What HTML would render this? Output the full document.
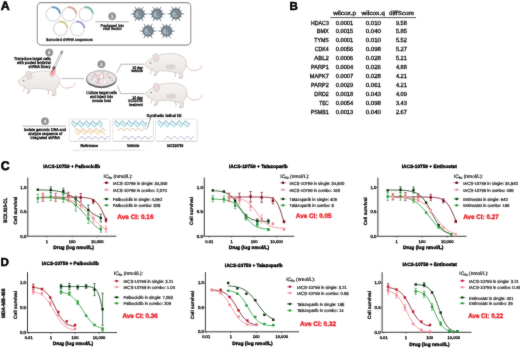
<!DOCTYPE html>
<html><head><meta charset="utf-8"><style>
html,body{margin:0;padding:0;background:#fff;}
svg{display:block;font-family:"Liberation Sans",sans-serif;}
#w{width:520px;height:348px;}
text{text-rendering:geometricPrecision;}
</style></head><body><div id="w">
<svg width="520" height="348" viewBox="0 0 520 348">
<defs><filter id="bl" x="0" y="0" width="520" height="348" filterUnits="userSpaceOnUse"><feConvolveMatrix order="3" kernelMatrix="1 2 1 2 28 2 1 2 1" edgeMode="duplicate"/></filter></defs>
<rect width="520" height="348" fill="#fff"/>
<g filter="url(#bl)">
<text x="0.8" y="10.1" font-size="12.4" font-weight="bold" stroke="#000" stroke-width="0.5">A</text>
<text x="289.6" y="9.8" font-size="11.6" font-weight="bold" stroke="#000" stroke-width="0.5">B</text>
<text x="0.7" y="169.6" font-size="12.4" font-weight="bold" stroke="#000" stroke-width="0.5">C</text>
<text x="0.6" y="266.1" font-size="11.6" font-weight="bold" stroke="#000" stroke-width="0.5">D</text>
<defs><linearGradient id="mg" x1="0" y1="0" x2="0" y2="1"><stop offset="0" stop-color="#f6f4f2"/><stop offset="1" stop-color="#e6e2de"/></linearGradient></defs>
<rect x="37.3" y="2.6" width="153.5" height="42.5" rx="4" fill="#fff" stroke="#939393" stroke-width="1.1"/>
<circle cx="53.1" cy="14.2" r="7" fill="none" stroke="#d9d9d9" stroke-width="1.2"/>
<path d="M51.88,7.31 A7,7 0 0 1 60.07,13.59" fill="none" stroke="#4a8ab4" stroke-width="2.1" opacity="0.85"/>
<circle cx="69.2" cy="14.2" r="7" fill="none" stroke="#d9d9d9" stroke-width="1.2"/>
<path d="M67.98,7.31 A7,7 0 0 1 76.17,13.59" fill="none" stroke="#d29a84" stroke-width="2.1" opacity="0.85"/>
<circle cx="85.9" cy="14.1" r="7" fill="none" stroke="#d9d9d9" stroke-width="1.2"/>
<path d="M84.68,7.21 A7,7 0 0 1 92.87,13.49" fill="none" stroke="#5fb89a" stroke-width="2.1" opacity="0.85"/>
<circle cx="60.5" cy="28.6" r="7" fill="none" stroke="#d9d9d9" stroke-width="1.2"/>
<path d="M59.28,21.71 A7,7 0 0 1 67.47,27.99" fill="none" stroke="#d8c878" stroke-width="2.1" opacity="0.85"/>
<circle cx="77.4" cy="28.6" r="7" fill="none" stroke="#d9d9d9" stroke-width="1.2"/>
<path d="M76.18,21.71 A7,7 0 0 1 84.37,27.99" fill="none" stroke="#a890c8" stroke-width="2.1" opacity="0.85"/>
<text transform="translate(69.4 40.8) scale(1 1.1)" x="0" y="0" font-size="3.75" font-weight="normal" text-anchor="middle" fill="#111" stroke="#111" stroke-width="0.28" textLength="46.8" lengthAdjust="spacingAndGlyphs">Barcoded shRNA sequences</text>
<circle cx="112.2" cy="16.2" r="3.8" fill="#8f8f8f"/>
<circle cx="112.2" cy="16.2" r="3.8" fill="none" stroke="#b5b5b5" stroke-width="0.5"/>
<text x="112.2" y="17.9" font-size="4.8" font-weight="bold" text-anchor="middle" fill="#fff">1</text>
<path d="M95.5,21.8 H128.6" stroke="#777" stroke-width="0.6"/>
<text transform="translate(112.3 26.6) scale(1 1.1)" x="0" y="0" font-size="3.75" font-weight="normal" text-anchor="middle" fill="#111" stroke="#111" stroke-width="0.28" textLength="23.5" lengthAdjust="spacingAndGlyphs">Packaged into</text>
<text transform="translate(112.3 30.1) scale(1 1.1)" x="0" y="0" font-size="3.75" font-weight="normal" text-anchor="middle" fill="#111" stroke="#111" stroke-width="0.28" textLength="19" lengthAdjust="spacingAndGlyphs">viral vector</text>
<path d="M144.00,14.00 L147.30,14.00 M141.50,18.33 L143.15,21.19 M136.50,18.33 L134.85,21.19 M134.00,14.00 L130.70,14.00 M136.50,9.67 L134.85,6.81 M141.50,9.67 L143.15,6.81 M142.98,16.30 L145.06,17.50 M139.00,18.60 L139.00,21.00 M135.02,16.30 L132.94,17.50 M135.02,11.70 L132.94,10.50 M139.00,9.40 L139.00,7.00 M142.98,11.70 L145.06,10.50" stroke="#6a767e" stroke-width="0.85"/>
<polygon points="144.60,14.00 141.80,18.85 136.20,18.85 133.40,14.00 136.20,9.15 141.80,9.15" fill="#7a8891" stroke="#505c64" stroke-width="0.8"/>
<circle cx="138.4" cy="14.4" r="3" fill="#a3b5be"/>
<path d="M138.7,11.4 q1.6,2.6 -0.2,5.2 M140.4,12 l0.6,4" stroke="#56626a" stroke-width="0.7" fill="none"/>
<path d="M162.00,14.00 L165.30,14.00 M159.50,18.33 L161.15,21.19 M154.50,18.33 L152.85,21.19 M152.00,14.00 L148.70,14.00 M154.50,9.67 L152.85,6.81 M159.50,9.67 L161.15,6.81 M160.98,16.30 L163.06,17.50 M157.00,18.60 L157.00,21.00 M153.02,16.30 L150.94,17.50 M153.02,11.70 L150.94,10.50 M157.00,9.40 L157.00,7.00 M160.98,11.70 L163.06,10.50" stroke="#6a767e" stroke-width="0.85"/>
<polygon points="162.60,14.00 159.80,18.85 154.20,18.85 151.40,14.00 154.20,9.15 159.80,9.15" fill="#7a8891" stroke="#505c64" stroke-width="0.8"/>
<circle cx="156.4" cy="14.4" r="3" fill="#a3b5be"/>
<path d="M156.7,11.4 q1.6,2.6 -0.2,5.2 M158.4,12 l0.6,4" stroke="#56626a" stroke-width="0.7" fill="none"/>
<path d="M180.90,13.80 L184.20,13.80 M178.40,18.13 L180.05,20.99 M173.40,18.13 L171.75,20.99 M170.90,13.80 L167.60,13.80 M173.40,9.47 L171.75,6.61 M178.40,9.47 L180.05,6.61 M179.88,16.10 L181.96,17.30 M175.90,18.40 L175.90,20.80 M171.92,16.10 L169.84,17.30 M171.92,11.50 L169.84,10.30 M175.90,9.20 L175.90,6.80 M179.88,11.50 L181.96,10.30" stroke="#6a767e" stroke-width="0.85"/>
<polygon points="181.50,13.80 178.70,18.65 173.10,18.65 170.30,13.80 173.10,8.95 178.70,8.95" fill="#7a8891" stroke="#505c64" stroke-width="0.8"/>
<circle cx="175.3" cy="14.200000000000001" r="3" fill="#a3b5be"/>
<path d="M175.6,11.200000000000001 q1.6,2.6 -0.2,5.2 M177.3,11.8 l0.6,4" stroke="#56626a" stroke-width="0.7" fill="none"/>
<path d="M153.10,31.00 L156.40,31.00 M150.60,35.33 L152.25,38.19 M145.60,35.33 L143.95,38.19 M143.10,31.00 L139.80,31.00 M145.60,26.67 L143.95,23.81 M150.60,26.67 L152.25,23.81 M152.08,33.30 L154.16,34.50 M148.10,35.60 L148.10,38.00 M144.12,33.30 L142.04,34.50 M144.12,28.70 L142.04,27.50 M148.10,26.40 L148.10,24.00 M152.08,28.70 L154.16,27.50" stroke="#6a767e" stroke-width="0.85"/>
<polygon points="153.70,31.00 150.90,35.85 145.30,35.85 142.50,31.00 145.30,26.15 150.90,26.15" fill="#7a8891" stroke="#505c64" stroke-width="0.8"/>
<circle cx="147.5" cy="31.4" r="3" fill="#a3b5be"/>
<path d="M147.79999999999998,28.4 q1.6,2.6 -0.2,5.2 M149.5,29 l0.6,4" stroke="#56626a" stroke-width="0.7" fill="none"/>
<path d="M171.60,31.00 L174.90,31.00 M169.10,35.33 L170.75,38.19 M164.10,35.33 L162.45,38.19 M161.60,31.00 L158.30,31.00 M164.10,26.67 L162.45,23.81 M169.10,26.67 L170.75,23.81 M170.58,33.30 L172.66,34.50 M166.60,35.60 L166.60,38.00 M162.62,33.30 L160.54,34.50 M162.62,28.70 L160.54,27.50 M166.60,26.40 L166.60,24.00 M170.58,28.70 L172.66,27.50" stroke="#6a767e" stroke-width="0.85"/>
<polygon points="172.20,31.00 169.40,35.85 163.80,35.85 161.00,31.00 163.80,26.15 169.40,26.15" fill="#7a8891" stroke="#505c64" stroke-width="0.8"/>
<circle cx="166.0" cy="31.4" r="3" fill="#a3b5be"/>
<path d="M166.29999999999998,28.4 q1.6,2.6 -0.2,5.2 M168.0,29 l0.6,4" stroke="#56626a" stroke-width="0.7" fill="none"/>
<g transform="translate(18.1,81.8)"><path d="M40.5,0 C43,4.5 45.5,6.4 48.5,6.3 C52,6.2 55,5.2 56.2,3.4 C56.9,2.3 56.7,1.5 56.2,0.8" fill="none" stroke="#e2bfc3" stroke-width="1"/><path d="M29.5,6.5 L30.8,11.8 L29.2,12.4" fill="none" stroke="#d8c4c6" stroke-width="1"/><path d="M6.5,5 L5.6,9.2 L4.2,9.6" fill="none" stroke="#dcc4c6" stroke-width="0.9"/><path d="M0,0 C1.5,-2.5 4,-4.8 7,-6 C11,-8.6 16,-10.2 22,-10.6 C28,-11 34,-10.5 38,-7.5 C40.5,-5.5 41.5,-3 41.3,-0.5 C41,3 39.5,5.5 37.5,7.5 L37.8,12.8 L35.6,13.9 L33.4,13.6 L34.6,12.5 L34.4,9 C29,7.8 23,6.5 17.5,6.5 C15,6.5 13.5,7 12.5,7.8 L11.6,10.6 L9.2,11.3 L8.8,10.5 L10,9.6 L9.6,6.8 C7,5.6 4,4.3 2,3 C0.8,2.1 0,1 0,0 Z" fill="url(#mg)" stroke="#bdb6b2" stroke-width="0.55"/><ellipse cx="10.8" cy="-6.6" rx="2.9" ry="4.2" transform="rotate(-15 10.8 -6.6)" fill="#efe5e4" stroke="#c2b4b5" stroke-width="0.55"/><ellipse cx="11" cy="-6.2" rx="1.5" ry="2.6" transform="rotate(-15 11 -6.2)" fill="#ead6d8"/><circle cx="5.5" cy="-1.4" r="0.75" fill="#666"/><path d="M37.2,13.4 l-2.2,0.6 M11,11.2 l-2,0.4" stroke="#dcb4b8" stroke-width="1"/></g>
<g transform="translate(145,64.3)"><path d="M40.5,0 C43,4.5 45.5,6.4 48.5,6.3 C52,6.2 55,5.2 56.2,3.4 C56.9,2.3 56.7,1.5 56.2,0.8" fill="none" stroke="#e2bfc3" stroke-width="1"/><path d="M29.5,6.5 L30.8,11.8 L29.2,12.4" fill="none" stroke="#d8c4c6" stroke-width="1"/><path d="M6.5,5 L5.6,9.2 L4.2,9.6" fill="none" stroke="#dcc4c6" stroke-width="0.9"/><path d="M0,0 C1.5,-2.5 4,-4.8 7,-6 C11,-8.6 16,-10.2 22,-10.6 C28,-11 34,-10.5 38,-7.5 C40.5,-5.5 41.5,-3 41.3,-0.5 C41,3 39.5,5.5 37.5,7.5 L37.8,12.8 L35.6,13.9 L33.4,13.6 L34.6,12.5 L34.4,9 C29,7.8 23,6.5 17.5,6.5 C15,6.5 13.5,7 12.5,7.8 L11.6,10.6 L9.2,11.3 L8.8,10.5 L10,9.6 L9.6,6.8 C7,5.6 4,4.3 2,3 C0.8,2.1 0,1 0,0 Z" fill="url(#mg)" stroke="#bdb6b2" stroke-width="0.55"/><ellipse cx="10.8" cy="-6.6" rx="2.9" ry="4.2" transform="rotate(-15 10.8 -6.6)" fill="#efe5e4" stroke="#c2b4b5" stroke-width="0.55"/><ellipse cx="11" cy="-6.2" rx="1.5" ry="2.6" transform="rotate(-15 11 -6.2)" fill="#ead6d8"/><circle cx="5.5" cy="-1.4" r="0.75" fill="#666"/><path d="M37.2,13.4 l-2.2,0.6 M11,11.2 l-2,0.4" stroke="#dcb4b8" stroke-width="1"/><ellipse cx="25.5" cy="2.5" rx="5" ry="2.6" fill="#e0d8da"/><path d="M22,1 v3.3 M24.5,0.4 v4 M27,0.4 v4 M29.4,1 v3.3" stroke="#c9bdc2" stroke-width="0.4"/></g>
<g transform="translate(145.6,93.8)"><path d="M40.5,0 C43,4.5 45.5,6.4 48.5,6.3 C52,6.2 55,5.2 56.2,3.4 C56.9,2.3 56.7,1.5 56.2,0.8" fill="none" stroke="#e2bfc3" stroke-width="1"/><path d="M29.5,6.5 L30.8,11.8 L29.2,12.4" fill="none" stroke="#d8c4c6" stroke-width="1"/><path d="M6.5,5 L5.6,9.2 L4.2,9.6" fill="none" stroke="#dcc4c6" stroke-width="0.9"/><path d="M0,0 C1.5,-2.5 4,-4.8 7,-6 C11,-8.6 16,-10.2 22,-10.6 C28,-11 34,-10.5 38,-7.5 C40.5,-5.5 41.5,-3 41.3,-0.5 C41,3 39.5,5.5 37.5,7.5 L37.8,12.8 L35.6,13.9 L33.4,13.6 L34.6,12.5 L34.4,9 C29,7.8 23,6.5 17.5,6.5 C15,6.5 13.5,7 12.5,7.8 L11.6,10.6 L9.2,11.3 L8.8,10.5 L10,9.6 L9.6,6.8 C7,5.6 4,4.3 2,3 C0.8,2.1 0,1 0,0 Z" fill="url(#mg)" stroke="#bdb6b2" stroke-width="0.55"/><ellipse cx="10.8" cy="-6.6" rx="2.9" ry="4.2" transform="rotate(-15 10.8 -6.6)" fill="#efe5e4" stroke="#c2b4b5" stroke-width="0.55"/><ellipse cx="11" cy="-6.2" rx="1.5" ry="2.6" transform="rotate(-15 11 -6.2)" fill="#ead6d8"/><circle cx="5.5" cy="-1.4" r="0.75" fill="#666"/><path d="M37.2,13.4 l-2.2,0.6 M11,11.2 l-2,0.4" stroke="#dcb4b8" stroke-width="1"/><ellipse cx="25.5" cy="2.5" rx="5" ry="2.6" fill="#e0d8da"/><path d="M22,1 v3.3 M24.5,0.4 v4 M27,0.4 v4 M29.4,1 v3.3" stroke="#c9bdc2" stroke-width="0.4"/></g>
<ellipse cx="52.8" cy="72.5" rx="2.6" ry="4.2" transform="rotate(25 52.8 72.5)" fill="#f0a8aa" opacity="0.9"/>
<path d="M62.2,51.5 L53.8,68.2" stroke="#a9a9a9" stroke-width="2.4"/>
<path d="M62.0,52.0 L54.0,67.8" stroke="#e9e9e9" stroke-width="1.3"/>
<path d="M62.6,50.6 L60.8,54" stroke="#8a8a8a" stroke-width="1.6"/>
<path d="M54.6,66.6 L53.2,69.4" stroke="#6a4a4c" stroke-width="2.6"/>
<path d="M53.3,69.4 L51.8,72.6" stroke="#c07a80" stroke-width="1.4"/>
<circle cx="49.2" cy="52.5" r="3.8" fill="#8f8f8f"/>
<circle cx="49.2" cy="52.5" r="3.8" fill="none" stroke="#b5b5b5" stroke-width="0.5"/>
<text x="49.2" y="54.2" font-size="4.8" font-weight="bold" text-anchor="middle" fill="#fff">2</text>
<text transform="translate(50.6 60) scale(1 1.1)" x="0" y="0" font-size="3.75" font-weight="normal" text-anchor="end" fill="#111" stroke="#111" stroke-width="0.28" textLength="36.6" lengthAdjust="spacingAndGlyphs">Transduce target cells</text>
<text transform="translate(50.6 63.9) scale(1 1.1)" x="0" y="0" font-size="3.75" font-weight="normal" text-anchor="end" fill="#111" stroke="#111" stroke-width="0.28" textLength="33.5" lengthAdjust="spacingAndGlyphs">with pooled lentiviral</text>
<text transform="translate(50.6 67.8) scale(1 1.1)" x="0" y="0" font-size="3.75" font-weight="normal" text-anchor="end" fill="#111" stroke="#111" stroke-width="0.28" textLength="22" lengthAdjust="spacingAndGlyphs">shRNA library</text>
<path d="M61.5,78.6 H84" stroke="#888" stroke-width="0.6"/>
<circle cx="101.4" cy="64.2" r="3.8" fill="#8f8f8f"/>
<circle cx="101.4" cy="64.2" r="3.8" fill="none" stroke="#b5b5b5" stroke-width="0.5"/>
<text x="101.4" y="65.9" font-size="4.8" font-weight="bold" text-anchor="middle" fill="#fff">3</text>
<ellipse cx="101.4" cy="79.2" rx="15.3" ry="9" fill="#5e5e5e"/>
<ellipse cx="101.4" cy="78.2" rx="15" ry="8.2" fill="#c9c9c9"/>
<ellipse cx="101.6" cy="78.4" rx="13.6" ry="7" fill="#ece6e7"/>
<circle cx="94.50" cy="75.03" r="1.0" fill="#e0a8b0"/><circle cx="96.77" cy="75.07" r="0.6" fill="#bdb3b8"/><circle cx="95.13" cy="74.12" r="0.8" fill="#e9b5b8"/><circle cx="96.00" cy="78.94" r="0.6" fill="#fafafa"/><circle cx="100.42" cy="78.11" r="0.8" fill="#d6c8cc"/><circle cx="99.57" cy="83.67" r="0.6" fill="#bdb3b8"/><circle cx="101.83" cy="76.90" r="1.0" fill="#fafafa"/><circle cx="97.67" cy="79.09" r="0.6" fill="#e9b5b8"/><circle cx="103.26" cy="72.97" r="0.6" fill="#d6c8cc"/><circle cx="98.84" cy="83.72" r="1.0" fill="#fafafa"/><circle cx="98.15" cy="76.70" r="0.6" fill="#e0a8b0"/><circle cx="112.23" cy="77.30" r="0.6" fill="#f6d6cf"/><circle cx="98.59" cy="80.15" r="0.8" fill="#d6c8cc"/><circle cx="107.39" cy="79.62" r="1.0" fill="#fafafa"/><circle cx="111.07" cy="78.50" r="0.6" fill="#f6d6cf"/><circle cx="97.77" cy="83.11" r="1.0" fill="#bdb3b8"/><circle cx="98.40" cy="81.96" r="0.6" fill="#e0a8b0"/><circle cx="112.24" cy="80.34" r="1.0" fill="#e9b5b8"/><circle cx="97.02" cy="81.18" r="0.8" fill="#fafafa"/><circle cx="95.77" cy="81.57" r="0.8" fill="#e9b5b8"/><circle cx="106.28" cy="79.09" r="0.6" fill="#d6c8cc"/><circle cx="102.00" cy="73.00" r="0.8" fill="#bdb3b8"/><circle cx="90.77" cy="77.98" r="0.8" fill="#f6d6cf"/><circle cx="109.34" cy="81.44" r="0.8" fill="#f6d6cf"/><circle cx="112.49" cy="79.64" r="0.6" fill="#e9b5b8"/><circle cx="96.75" cy="82.08" r="0.8" fill="#d6c8cc"/><circle cx="100.05" cy="83.03" r="0.8" fill="#e9b5b8"/><circle cx="99.11" cy="75.55" r="1.0" fill="#e9b5b8"/><circle cx="107.27" cy="82.14" r="0.6" fill="#bdb3b8"/><circle cx="100.99" cy="76.83" r="1.0" fill="#fafafa"/><circle cx="103.42" cy="77.94" r="1.0" fill="#e0a8b0"/><circle cx="98.40" cy="80.73" r="0.8" fill="#e0a8b0"/><circle cx="108.54" cy="82.79" r="0.6" fill="#e0a8b0"/><circle cx="103.72" cy="75.33" r="0.6" fill="#d6c8cc"/><circle cx="110.18" cy="77.91" r="1.0" fill="#d6c8cc"/><circle cx="107.49" cy="76.22" r="0.8" fill="#d6c8cc"/><circle cx="99.65" cy="79.37" r="0.8" fill="#bdb3b8"/><circle cx="108.57" cy="82.57" r="0.6" fill="#fafafa"/><circle cx="109.26" cy="77.83" r="1.0" fill="#bdb3b8"/><circle cx="100.58" cy="74.56" r="0.8" fill="#f6d6cf"/><circle cx="97.98" cy="79.62" r="1.0" fill="#bdb3b8"/><circle cx="110.42" cy="77.29" r="0.8" fill="#bdb3b8"/><circle cx="105.03" cy="81.95" r="1.0" fill="#fafafa"/><circle cx="106.25" cy="75.91" r="1.0" fill="#f6d6cf"/><circle cx="99.78" cy="77.86" r="0.8" fill="#f6d6cf"/><circle cx="92.84" cy="76.73" r="0.8" fill="#bdb3b8"/><circle cx="102.78" cy="73.78" r="0.8" fill="#f6d6cf"/><circle cx="96.44" cy="74.95" r="0.8" fill="#e9b5b8"/><circle cx="96.09" cy="77.58" r="0.8" fill="#e0a8b0"/><circle cx="91.49" cy="79.57" r="1.0" fill="#e0a8b0"/><circle cx="103.60" cy="75.24" r="0.8" fill="#e0a8b0"/><circle cx="100.80" cy="73.32" r="0.6" fill="#f6d6cf"/><circle cx="108.13" cy="75.01" r="0.8" fill="#f6d6cf"/><circle cx="93.29" cy="77.94" r="0.6" fill="#d6c8cc"/><circle cx="107.37" cy="73.76" r="0.8" fill="#bdb3b8"/>
<text transform="translate(101.5 94.2) scale(1 1.1)" x="0" y="0" font-size="3.75" font-weight="normal" text-anchor="middle" fill="#111" stroke="#111" stroke-width="0.28" textLength="30.7" lengthAdjust="spacingAndGlyphs">Culture target cells</text>
<text transform="translate(101.5 98.1) scale(1 1.1)" x="0" y="0" font-size="3.75" font-weight="normal" text-anchor="middle" fill="#111" stroke="#111" stroke-width="0.28" textLength="22.9" lengthAdjust="spacingAndGlyphs">and inject into</text>
<text transform="translate(101.5 101.6) scale(1 1.1)" x="0" y="0" font-size="3.75" font-weight="normal" text-anchor="middle" fill="#111" stroke="#111" stroke-width="0.28" textLength="18.6" lengthAdjust="spacingAndGlyphs">mouse host</text>
<path d="M116.9,72.6 L121.2,64.2 H144.2 M117.3,85.4 L120.8,93.6 H144.6" fill="none" stroke="#888" stroke-width="0.6"/>
<text transform="translate(142.7 68.5) scale(1 1.1)" x="0" y="0" font-size="3.6" font-weight="normal" text-anchor="end" fill="#111" stroke="#111" stroke-width="0.28" textLength="10.4" lengthAdjust="spacingAndGlyphs">10 day</text>
<text transform="translate(142.7 72.4) scale(1 1.1)" x="0" y="0" font-size="3.6" font-weight="normal" text-anchor="end" fill="#111" stroke="#111" stroke-width="0.28" textLength="11.5" lengthAdjust="spacingAndGlyphs">vehicle</text>
<text transform="translate(142.7 98.6) scale(1 1.1)" x="0" y="0" font-size="3.6" font-weight="normal" text-anchor="end" fill="#111" stroke="#111" stroke-width="0.28" textLength="10.4" lengthAdjust="spacingAndGlyphs">10 day</text>
<text transform="translate(142.6 102.3) scale(1 1.1)" x="0" y="0" font-size="3.6" font-weight="normal" text-anchor="end" fill="#111" stroke="#111" stroke-width="0.28" textLength="14.3" lengthAdjust="spacingAndGlyphs">IACS10759</text>
<text transform="translate(142.6 106) scale(1 1.1)" x="0" y="0" font-size="3.6" font-weight="normal" text-anchor="end" fill="#111" stroke="#111" stroke-width="0.28" textLength="13.6" lengthAdjust="spacingAndGlyphs">treatment</text>
<circle cx="45" cy="121.2" r="3.8" fill="#8f8f8f"/>
<circle cx="45" cy="121.2" r="3.8" fill="none" stroke="#b5b5b5" stroke-width="0.5"/>
<text x="45" y="122.9" font-size="4.8" font-weight="bold" text-anchor="middle" fill="#fff">4</text>
<path d="M22.5,126.1 H65.7" stroke="#777" stroke-width="0.6"/>
<text transform="translate(44.9 131.3) scale(1 1.1)" x="0" y="0" font-size="3.75" font-weight="normal" text-anchor="middle" fill="#111" stroke="#111" stroke-width="0.28" textLength="41.7" lengthAdjust="spacingAndGlyphs">Isolate genomic DNA and</text>
<text transform="translate(45.2 135) scale(1 1.1)" x="0" y="0" font-size="3.75" font-weight="normal" text-anchor="middle" fill="#111" stroke="#111" stroke-width="0.28" textLength="34" lengthAdjust="spacingAndGlyphs">analyze sequence of</text>
<text transform="translate(45.3 138.5) scale(1 1.1)" x="0" y="0" font-size="3.75" font-weight="normal" text-anchor="middle" fill="#111" stroke="#111" stroke-width="0.28" textLength="29.4" lengthAdjust="spacingAndGlyphs">integrated shRNA</text>
<rect x="69.6" y="120.10000000000001" width="40.7" height="22" rx="1.5" fill="#d9d9d9"/>
<rect x="69.3" y="119.2" width="40.7" height="22" rx="1.5" fill="#fff" stroke="#d6d6d6" stroke-width="0.6"/>
<polygon points="71.50,122.50 71.75,122.14 72.00,121.81 72.25,121.51 72.51,121.27 72.76,121.10 73.01,121.01 73.26,121.01 73.51,121.09 73.76,121.26 74.02,121.49 74.27,121.79 74.52,122.12 74.77,122.48 75.02,122.84 75.27,123.17 75.53,123.47 75.78,123.72 76.03,123.89 76.28,123.98 76.53,123.99 76.78,123.91 77.04,123.75 77.29,123.52 77.54,123.23 77.79,122.90 78.04,122.54 78.29,122.18 78.55,121.84 78.80,121.54 79.05,121.29 79.30,121.12 79.55,121.02 79.80,121.01 80.05,121.08 80.31,121.23 80.56,121.46 80.81,121.75 81.06,122.08 81.31,122.44 81.56,122.79 81.82,123.14 82.07,123.44 82.32,123.69 82.57,123.88 82.82,123.98 83.07,124.00 83.33,123.93 83.58,123.78 83.83,123.55 84.08,123.27 84.33,122.94 84.58,122.59 84.84,122.23 85.09,121.88 85.34,121.58 85.59,121.32 85.84,121.13 86.09,121.03 86.35,121.00 86.60,121.07 86.85,121.21 87.10,121.43 87.35,121.71 87.60,122.04 87.85,122.39 88.11,122.75 88.36,123.10 88.61,123.41 88.86,123.67 89.11,123.86 89.36,123.97 89.62,124.00 89.87,123.94 90.12,123.80 90.37,123.58 90.62,123.31 90.87,122.98 91.13,122.63 91.38,122.27 91.63,121.92 91.88,121.61 92.13,121.35 92.38,121.15 92.64,121.03 92.89,121.00 93.14,121.05 93.39,121.19 93.64,121.40 93.89,121.68 94.15,122.00 94.40,122.35 94.65,122.71 94.90,123.06 95.15,123.37 95.40,123.64 95.65,123.84 95.91,123.96 96.16,124.00 96.41,123.95 96.66,123.82 96.91,123.61 97.16,123.34 97.42,123.02 97.67,122.67 97.92,122.31 98.17,121.96 98.42,121.64 98.67,121.38 98.93,121.17 99.18,121.04 99.43,121.00 99.68,121.04 99.93,121.17 100.18,121.37 100.44,121.64 100.69,121.96 100.94,122.31 101.19,122.67 101.44,123.02 101.69,123.34 101.95,123.61 102.20,123.82 102.45,123.95 102.70,124.00 102.70,125.62 102.45,125.98 102.20,126.32 101.95,126.61 101.69,126.84 101.44,127.01 101.19,127.09 100.94,127.09 100.69,127.00 100.44,126.83 100.18,126.59 99.93,126.29 99.68,125.95 99.43,125.60 99.18,125.24 98.93,124.90 98.67,124.61 98.42,124.37 98.17,124.20 97.92,124.11 97.67,124.11 97.42,124.19 97.16,124.36 96.91,124.60 96.66,124.89 96.41,125.22 96.16,125.58 95.91,125.94 95.65,126.28 95.40,126.58 95.15,126.82 94.90,126.99 94.65,127.09 94.40,127.09 94.15,127.01 93.89,126.85 93.64,126.62 93.39,126.33 93.14,126.00 92.89,125.64 92.64,125.28 92.38,124.94 92.13,124.64 91.88,124.39 91.63,124.22 91.38,124.12 91.13,124.11 90.87,124.18 90.62,124.34 90.37,124.56 90.12,124.85 89.87,125.18 89.62,125.54 89.36,125.90 89.11,126.24 88.86,126.54 88.61,126.79 88.36,126.98 88.11,127.08 87.85,127.10 87.60,127.03 87.35,126.88 87.10,126.65 86.85,126.37 86.60,126.04 86.35,125.68 86.09,125.32 85.84,124.98 85.59,124.67 85.34,124.42 85.09,124.23 84.84,124.13 84.58,124.10 84.33,124.17 84.08,124.31 83.83,124.53 83.58,124.81 83.33,125.14 83.07,125.50 82.82,125.85 82.57,126.20 82.32,126.51 82.07,126.77 81.82,126.96 81.56,127.07 81.31,127.10 81.06,127.04 80.81,126.90 80.56,126.68 80.31,126.40 80.05,126.08 79.80,125.73 79.55,125.37 79.30,125.02 79.05,124.71 78.80,124.45 78.55,124.25 78.29,124.13 78.04,124.10 77.79,124.15 77.54,124.29 77.29,124.50 77.04,124.78 76.78,125.10 76.53,125.45 76.28,125.81 76.03,126.16 75.78,126.48 75.53,126.74 75.27,126.94 75.02,127.06 74.77,127.10 74.52,127.05 74.27,126.92 74.02,126.71 73.76,126.44 73.51,126.12 73.26,125.77 73.01,125.41 72.76,125.06 72.51,124.74 72.25,124.47 72.00,124.27 71.75,124.14 71.50,124.10" fill="#dff2f4" stroke="none"/><polyline points="71.50,122.50 71.75,122.14 72.00,121.81 72.25,121.51 72.51,121.27 72.76,121.10 73.01,121.01 73.26,121.01 73.51,121.09 73.76,121.26 74.02,121.49 74.27,121.79 74.52,122.12 74.77,122.48 75.02,122.84 75.27,123.17 75.53,123.47 75.78,123.72 76.03,123.89 76.28,123.98 76.53,123.99 76.78,123.91 77.04,123.75 77.29,123.52 77.54,123.23 77.79,122.90 78.04,122.54 78.29,122.18 78.55,121.84 78.80,121.54 79.05,121.29 79.30,121.12 79.55,121.02 79.80,121.01 80.05,121.08 80.31,121.23 80.56,121.46 80.81,121.75 81.06,122.08 81.31,122.44 81.56,122.79 81.82,123.14 82.07,123.44 82.32,123.69 82.57,123.88 82.82,123.98 83.07,124.00 83.33,123.93 83.58,123.78 83.83,123.55 84.08,123.27 84.33,122.94 84.58,122.59 84.84,122.23 85.09,121.88 85.34,121.58 85.59,121.32 85.84,121.13 86.09,121.03 86.35,121.00 86.60,121.07 86.85,121.21 87.10,121.43 87.35,121.71 87.60,122.04 87.85,122.39 88.11,122.75 88.36,123.10 88.61,123.41 88.86,123.67 89.11,123.86 89.36,123.97 89.62,124.00 89.87,123.94 90.12,123.80 90.37,123.58 90.62,123.31 90.87,122.98 91.13,122.63 91.38,122.27 91.63,121.92 91.88,121.61 92.13,121.35 92.38,121.15 92.64,121.03 92.89,121.00 93.14,121.05 93.39,121.19 93.64,121.40 93.89,121.68 94.15,122.00 94.40,122.35 94.65,122.71 94.90,123.06 95.15,123.37 95.40,123.64 95.65,123.84 95.91,123.96 96.16,124.00 96.41,123.95 96.66,123.82 96.91,123.61 97.16,123.34 97.42,123.02 97.67,122.67 97.92,122.31 98.17,121.96 98.42,121.64 98.67,121.38 98.93,121.17 99.18,121.04 99.43,121.00 99.68,121.04 99.93,121.17 100.18,121.37 100.44,121.64 100.69,121.96 100.94,122.31 101.19,122.67 101.44,123.02 101.69,123.34 101.95,123.61 102.20,123.82 102.45,123.95 102.70,124.00" fill="none" stroke="#6a96b8" stroke-width="0.8"/><polyline points="71.50,124.10 71.75,124.14 72.00,124.27 72.25,124.47 72.51,124.74 72.76,125.06 73.01,125.41 73.26,125.77 73.51,126.12 73.76,126.44 74.02,126.71 74.27,126.92 74.52,127.05 74.77,127.10 75.02,127.06 75.27,126.94 75.53,126.74 75.78,126.48 76.03,126.16 76.28,125.81 76.53,125.45 76.78,125.10 77.04,124.78 77.29,124.50 77.54,124.29 77.79,124.15 78.04,124.10 78.29,124.13 78.55,124.25 78.80,124.45 79.05,124.71 79.30,125.02 79.55,125.37 79.80,125.73 80.05,126.08 80.31,126.40 80.56,126.68 80.81,126.90 81.06,127.04 81.31,127.10 81.56,127.07 81.82,126.96 82.07,126.77 82.32,126.51 82.57,126.20 82.82,125.85 83.07,125.50 83.33,125.14 83.58,124.81 83.83,124.53 84.08,124.31 84.33,124.17 84.58,124.10 84.84,124.13 85.09,124.23 85.34,124.42 85.59,124.67 85.84,124.98 86.09,125.32 86.35,125.68 86.60,126.04 86.85,126.37 87.10,126.65 87.35,126.88 87.60,127.03 87.85,127.10 88.11,127.08 88.36,126.98 88.61,126.79 88.86,126.54 89.11,126.24 89.36,125.90 89.62,125.54 89.87,125.18 90.12,124.85 90.37,124.56 90.62,124.34 90.87,124.18 91.13,124.11 91.38,124.12 91.63,124.22 91.88,124.39 92.13,124.64 92.38,124.94 92.64,125.28 92.89,125.64 93.14,126.00 93.39,126.33 93.64,126.62 93.89,126.85 94.15,127.01 94.40,127.09 94.65,127.09 94.90,126.99 95.15,126.82 95.40,126.58 95.65,126.28 95.91,125.94 96.16,125.58 96.41,125.22 96.66,124.89 96.91,124.60 97.16,124.36 97.42,124.19 97.67,124.11 97.92,124.11 98.17,124.20 98.42,124.37 98.67,124.61 98.93,124.90 99.18,125.24 99.43,125.60 99.68,125.95 99.93,126.29 100.18,126.59 100.44,126.83 100.69,127.00 100.94,127.09 101.19,127.09 101.44,127.01 101.69,126.84 101.95,126.61 102.20,126.32 102.45,125.98 102.70,125.62" fill="none" stroke="#72c6cc" stroke-width="0.8"/>
<polygon points="75.00,130.00 75.25,129.64 75.50,129.31 75.75,129.01 76.00,128.77 76.25,128.60 76.50,128.51 76.75,128.51 77.00,128.59 77.25,128.75 77.50,128.98 77.75,129.27 78.00,129.60 78.26,129.96 78.51,130.31 78.76,130.65 79.01,130.95 79.26,131.20 79.51,131.38 79.76,131.48 80.01,131.50 80.26,131.43 80.51,131.28 80.76,131.05 81.01,130.77 81.26,130.44 81.51,130.09 81.76,129.73 82.01,129.39 82.26,129.08 82.51,128.83 82.76,128.64 83.01,128.53 83.26,128.50 83.51,128.56 83.76,128.70 84.01,128.92 84.27,129.19 84.52,129.52 84.77,129.87 85.02,130.23 85.27,130.57 85.52,130.88 85.77,131.15 86.02,131.34 86.27,131.46 86.52,131.50 86.77,131.45 87.02,131.32 87.27,131.11 87.52,130.84 87.77,130.52 88.02,130.18 88.27,129.82 88.52,129.47 88.77,129.15 89.02,128.88 89.27,128.68 89.52,128.55 89.77,128.50 90.02,128.54 90.28,128.66 90.53,128.86 90.78,129.12 91.03,129.44 91.28,129.78 91.53,130.14 91.78,130.49 92.03,130.81 92.28,131.09 92.53,131.30 92.78,131.44 93.03,131.50 93.28,131.47 93.53,131.36 93.78,131.17 94.03,130.91 94.28,130.60 94.53,130.26 94.78,129.90 95.03,129.55 95.28,129.23 95.53,128.94 95.78,128.72 96.03,128.57 96.29,128.50 96.54,128.52 96.79,128.62 97.04,128.80 97.29,129.05 97.54,129.36 97.79,129.69 98.04,130.05 98.29,130.41 98.54,130.74 98.79,131.03 99.04,131.26 99.29,131.41 99.54,131.49 99.79,131.49 100.04,131.39 100.29,131.22 100.54,130.98 100.79,130.68 101.04,130.35 101.29,129.99 101.54,129.64 101.79,129.30 102.04,129.01 102.30,128.77 102.55,128.60 102.80,128.51 103.05,128.51 103.30,128.59 103.55,128.75 103.80,128.99 104.05,129.28 104.30,129.61 104.55,129.96 104.80,130.32 105.05,130.66 105.30,130.96 105.30,134.25 105.05,134.45 104.80,134.57 104.55,134.60 104.30,134.55 104.05,134.41 103.80,134.21 103.55,133.93 103.30,133.61 103.05,133.26 102.80,132.91 102.55,132.56 102.30,132.24 102.04,131.98 101.79,131.77 101.54,131.64 101.29,131.60 101.04,131.64 100.79,131.77 100.54,131.97 100.29,132.23 100.04,132.55 99.79,132.89 99.54,133.25 99.29,133.60 99.04,133.92 98.79,134.19 98.54,134.41 98.29,134.54 98.04,134.60 97.79,134.57 97.54,134.45 97.29,134.26 97.04,134.00 96.79,133.70 96.54,133.35 96.29,132.99 96.03,132.64 95.78,132.32 95.53,132.04 95.28,131.82 95.03,131.67 94.78,131.60 94.53,131.62 94.28,131.73 94.03,131.91 93.78,132.16 93.53,132.46 93.28,132.80 93.03,133.16 92.78,133.52 92.53,133.85 92.28,134.13 92.03,134.36 91.78,134.52 91.53,134.59 91.28,134.58 91.03,134.49 90.78,134.32 90.53,134.07 90.28,133.77 90.02,133.44 89.77,133.08 89.52,132.73 89.27,132.39 89.02,132.10 88.77,131.86 88.52,131.70 88.27,131.61 88.02,131.61 87.77,131.69 87.52,131.86 87.27,132.09 87.02,132.39 86.77,132.72 86.52,133.07 86.27,133.43 86.02,133.77 85.77,134.07 85.52,134.31 85.27,134.49 85.02,134.58 84.77,134.59 84.52,134.52 84.27,134.37 84.01,134.14 83.76,133.85 83.51,133.52 83.26,133.17 83.01,132.81 82.76,132.47 82.51,132.17 82.26,131.91 82.01,131.73 81.76,131.62 81.51,131.60 81.26,131.67 81.01,131.81 80.76,132.03 80.51,132.31 80.26,132.64 80.01,132.99 79.76,133.34 79.51,133.69 79.26,134.00 79.01,134.26 78.76,134.45 78.51,134.57 78.26,134.60 78.00,134.55 77.75,134.41 77.50,134.20 77.25,133.93 77.00,133.61 76.75,133.26 76.50,132.90 76.25,132.55 76.00,132.24 75.75,131.97 75.50,131.77 75.25,131.64 75.00,131.60" fill="#fcf3e2" stroke="none"/><polyline points="75.00,130.00 75.25,129.64 75.50,129.31 75.75,129.01 76.00,128.77 76.25,128.60 76.50,128.51 76.75,128.51 77.00,128.59 77.25,128.75 77.50,128.98 77.75,129.27 78.00,129.60 78.26,129.96 78.51,130.31 78.76,130.65 79.01,130.95 79.26,131.20 79.51,131.38 79.76,131.48 80.01,131.50 80.26,131.43 80.51,131.28 80.76,131.05 81.01,130.77 81.26,130.44 81.51,130.09 81.76,129.73 82.01,129.39 82.26,129.08 82.51,128.83 82.76,128.64 83.01,128.53 83.26,128.50 83.51,128.56 83.76,128.70 84.01,128.92 84.27,129.19 84.52,129.52 84.77,129.87 85.02,130.23 85.27,130.57 85.52,130.88 85.77,131.15 86.02,131.34 86.27,131.46 86.52,131.50 86.77,131.45 87.02,131.32 87.27,131.11 87.52,130.84 87.77,130.52 88.02,130.18 88.27,129.82 88.52,129.47 88.77,129.15 89.02,128.88 89.27,128.68 89.52,128.55 89.77,128.50 90.02,128.54 90.28,128.66 90.53,128.86 90.78,129.12 91.03,129.44 91.28,129.78 91.53,130.14 91.78,130.49 92.03,130.81 92.28,131.09 92.53,131.30 92.78,131.44 93.03,131.50 93.28,131.47 93.53,131.36 93.78,131.17 94.03,130.91 94.28,130.60 94.53,130.26 94.78,129.90 95.03,129.55 95.28,129.23 95.53,128.94 95.78,128.72 96.03,128.57 96.29,128.50 96.54,128.52 96.79,128.62 97.04,128.80 97.29,129.05 97.54,129.36 97.79,129.69 98.04,130.05 98.29,130.41 98.54,130.74 98.79,131.03 99.04,131.26 99.29,131.41 99.54,131.49 99.79,131.49 100.04,131.39 100.29,131.22 100.54,130.98 100.79,130.68 101.04,130.35 101.29,129.99 101.54,129.64 101.79,129.30 102.04,129.01 102.30,128.77 102.55,128.60 102.80,128.51 103.05,128.51 103.30,128.59 103.55,128.75 103.80,128.99 104.05,129.28 104.30,129.61 104.55,129.96 104.80,130.32 105.05,130.66 105.30,130.96" fill="none" stroke="#d6aa80" stroke-width="0.8"/><polyline points="75.00,131.60 75.25,131.64 75.50,131.77 75.75,131.97 76.00,132.24 76.25,132.55 76.50,132.90 76.75,133.26 77.00,133.61 77.25,133.93 77.50,134.20 77.75,134.41 78.00,134.55 78.26,134.60 78.51,134.57 78.76,134.45 79.01,134.26 79.26,134.00 79.51,133.69 79.76,133.34 80.01,132.99 80.26,132.64 80.51,132.31 80.76,132.03 81.01,131.81 81.26,131.67 81.51,131.60 81.76,131.62 82.01,131.73 82.26,131.91 82.51,132.17 82.76,132.47 83.01,132.81 83.26,133.17 83.51,133.52 83.76,133.85 84.01,134.14 84.27,134.37 84.52,134.52 84.77,134.59 85.02,134.58 85.27,134.49 85.52,134.31 85.77,134.07 86.02,133.77 86.27,133.43 86.52,133.07 86.77,132.72 87.02,132.39 87.27,132.09 87.52,131.86 87.77,131.69 88.02,131.61 88.27,131.61 88.52,131.70 88.77,131.86 89.02,132.10 89.27,132.39 89.52,132.73 89.77,133.08 90.02,133.44 90.28,133.77 90.53,134.07 90.78,134.32 91.03,134.49 91.28,134.58 91.53,134.59 91.78,134.52 92.03,134.36 92.28,134.13 92.53,133.85 92.78,133.52 93.03,133.16 93.28,132.80 93.53,132.46 93.78,132.16 94.03,131.91 94.28,131.73 94.53,131.62 94.78,131.60 95.03,131.67 95.28,131.82 95.53,132.04 95.78,132.32 96.03,132.64 96.29,132.99 96.54,133.35 96.79,133.70 97.04,134.00 97.29,134.26 97.54,134.45 97.79,134.57 98.04,134.60 98.29,134.54 98.54,134.41 98.79,134.19 99.04,133.92 99.29,133.60 99.54,133.25 99.79,132.89 100.04,132.55 100.29,132.23 100.54,131.97 100.79,131.77 101.04,131.64 101.29,131.60 101.54,131.64 101.79,131.77 102.04,131.98 102.30,132.24 102.55,132.56 102.80,132.91 103.05,133.26 103.30,133.61 103.55,133.93 103.80,134.21 104.05,134.41 104.30,134.55 104.55,134.60 104.80,134.57 105.05,134.45 105.30,134.25" fill="none" stroke="#e6c898" stroke-width="0.8"/>
<polyline points="78.60,139.60 78.85,139.27 79.10,138.94 79.35,138.62 79.60,138.31 79.85,138.03 80.10,137.76 80.36,137.52 80.61,137.31 80.86,137.14 81.11,137.00 81.36,136.89 81.61,136.83 81.86,136.80 82.11,136.81 82.36,136.87 82.61,136.96 82.86,137.09 83.11,137.26 83.37,137.45 83.62,137.68 83.87,137.94 84.12,138.22 84.37,138.52 84.62,138.84 84.87,139.16 85.12,139.50 85.37,139.37 85.62,139.04 85.87,138.72 86.12,138.41 86.38,138.11 86.63,137.84 86.88,137.59 87.13,137.38 87.38,137.19 87.63,137.04 87.88,136.92 88.13,136.84 88.38,136.80 88.63,136.81 88.88,136.85 89.13,136.93 89.39,137.05 89.64,137.20 89.89,137.39 90.14,137.61 90.39,137.86 90.64,138.13 90.89,138.43 91.14,138.74 91.39,139.06 91.64,139.39 91.89,139.47 92.14,139.14 92.40,138.82 92.65,138.50 92.90,138.20 93.15,137.92 93.40,137.67 93.65,137.44 93.90,137.24 94.15,137.08 94.40,136.95 94.65,136.86 94.90,136.81 95.16,136.80 95.41,136.83 95.66,136.90 95.91,137.00 96.16,137.15 96.41,137.33 96.66,137.54 96.91,137.78 97.16,138.04 97.41,138.33 97.66,138.64 97.91,138.96 98.16,139.29 98.42,139.58 98.67,139.25 98.92,138.92 99.17,138.60 99.42,138.29 99.67,138.01 99.92,137.75 100.17,137.51 100.42,137.30 100.67,137.13 100.92,136.99 101.17,136.89 101.43,136.82 101.68,136.80 101.93,136.82 102.18,136.87 102.43,136.97 102.68,137.10 102.93,137.27 103.18,137.47 103.43,137.70 103.68,137.96 103.93,138.24 104.19,138.54 104.44,138.86 104.69,139.18 104.94,139.52 105.19,139.35 105.44,139.02 105.69,138.70 105.94,138.39 106.19,138.10 106.44,137.82 106.69,137.58 106.94,137.36 107.20,137.18 107.45,137.03 107.70,136.91 107.95,136.84 108.20,136.80 108.45,136.81 108.70,136.85" fill="none" stroke="#9c8cbc" stroke-width="0.8"/>
<text transform="translate(89.3 146.6) scale(1 1.1)" x="0" y="0" font-size="3.7" font-weight="bold" text-anchor="middle" fill="#111" stroke="#111" stroke-width="0.28" textLength="17.7" lengthAdjust="spacingAndGlyphs">Reference</text>
<rect x="112.89999999999999" y="119.9" width="40.7" height="22" rx="1.5" fill="#d9d9d9"/>
<rect x="112.6" y="119" width="40.7" height="22" rx="1.5" fill="#fff" stroke="#d6d6d6" stroke-width="0.6"/>
<polygon points="114.30,122.30 114.55,121.94 114.80,121.61 115.05,121.31 115.30,121.07 115.56,120.90 115.81,120.81 116.06,120.81 116.31,120.89 116.56,121.05 116.81,121.29 117.06,121.58 117.31,121.91 117.56,122.27 117.82,122.63 118.07,122.97 118.32,123.27 118.57,123.51 118.82,123.69 119.07,123.78 119.32,123.79 119.57,123.72 119.83,123.56 120.08,123.33 120.33,123.05 120.58,122.72 120.83,122.36 121.08,122.00 121.33,121.66 121.58,121.36 121.83,121.11 122.09,120.92 122.34,120.82 122.59,120.80 122.84,120.87 123.09,121.02 123.34,121.24 123.59,121.53 123.84,121.86 124.09,122.21 124.35,122.57 124.60,122.91 124.85,123.22 125.10,123.47 125.35,123.66 125.60,123.77 125.85,123.80 126.10,123.74 126.35,123.59 126.61,123.38 126.86,123.10 127.11,122.77 127.36,122.42 127.61,122.06 127.86,121.72 128.11,121.40 128.36,121.14 128.62,120.95 128.87,120.83 129.12,120.80 129.37,120.85 129.62,120.99 129.87,121.20 130.12,121.48 130.37,121.80 130.62,122.15 130.88,122.51 131.13,122.86 131.38,123.17 131.63,123.44 131.88,123.64 132.13,123.76 132.38,123.80 132.63,123.75 132.88,123.62 133.14,123.42 133.39,123.15 133.64,122.83 133.89,122.48 134.14,122.12 134.39,121.77 134.64,121.45 134.89,121.18 135.15,120.98 135.40,120.85 135.65,120.80 135.90,120.84 136.15,120.96 136.40,121.16 136.65,121.43 136.90,121.74 137.15,122.09 137.41,122.45 137.66,122.80 137.91,123.12 138.16,123.40 138.41,123.61 138.66,123.75 138.91,123.80 139.16,123.77 139.41,123.65 139.67,123.46 139.92,123.20 140.17,122.89 140.42,122.54 140.67,122.18 140.92,121.83 141.17,121.50 141.42,121.23 141.67,121.01 141.93,120.86 142.18,120.80 142.43,120.83 142.68,120.94 142.93,121.12 143.18,121.38 143.43,121.69 143.68,122.03 143.94,122.39 144.19,122.74 144.44,123.07 144.69,123.35 144.94,123.58 145.19,123.73 145.44,123.80 145.69,123.78 145.94,123.68 146.20,123.50 146.45,123.25 146.70,122.94 146.95,122.60 147.20,122.24 147.20,123.90 146.95,123.93 146.70,124.04 146.45,124.24 146.20,124.49 145.94,124.80 145.69,125.15 145.44,125.51 145.19,125.86 144.94,126.19 144.69,126.47 144.44,126.69 144.19,126.83 143.94,126.90 143.68,126.88 143.43,126.77 143.18,126.58 142.93,126.33 142.68,126.02 142.43,125.68 142.18,125.32 141.93,124.97 141.67,124.64 141.42,124.35 141.17,124.13 140.92,123.98 140.67,123.90 140.42,123.92 140.17,124.02 139.92,124.20 139.67,124.45 139.41,124.75 139.16,125.09 138.91,125.45 138.66,125.80 138.41,126.13 138.16,126.42 137.91,126.66 137.66,126.81 137.41,126.89 137.15,126.89 136.90,126.79 136.65,126.62 136.40,126.38 136.15,126.08 135.90,125.74 135.65,125.38 135.40,125.03 135.15,124.69 134.89,124.40 134.64,124.16 134.39,124.00 134.14,123.91 133.89,123.91 133.64,124.00 133.39,124.16 133.14,124.40 132.88,124.70 132.63,125.03 132.38,125.39 132.13,125.74 131.88,126.08 131.63,126.38 131.38,126.62 131.13,126.79 130.88,126.89 130.62,126.89 130.37,126.81 130.12,126.65 129.87,126.42 129.62,126.13 129.37,125.80 129.12,125.44 128.87,125.09 128.62,124.75 128.36,124.44 128.11,124.20 127.86,124.02 127.61,123.92 127.36,123.90 127.11,123.98 126.86,124.13 126.61,124.36 126.35,124.64 126.10,124.97 125.85,125.33 125.60,125.68 125.35,126.03 125.10,126.33 124.85,126.59 124.60,126.77 124.35,126.88 124.09,126.90 123.84,126.83 123.59,126.69 123.34,126.47 123.09,126.18 122.84,125.86 122.59,125.50 122.34,125.15 122.09,124.80 121.83,124.49 121.58,124.23 121.33,124.04 121.08,123.93 120.83,123.90 120.58,123.96 120.33,124.10 120.08,124.31 119.83,124.59 119.57,124.91 119.32,125.27 119.07,125.62 118.82,125.97 118.57,126.28 118.32,126.55 118.07,126.74 117.82,126.86 117.56,126.90 117.31,126.85 117.06,126.72 116.81,126.51 116.56,126.23 116.31,125.91 116.06,125.56 115.81,125.21 115.56,124.86 115.30,124.54 115.05,124.27 114.80,124.07 114.55,123.94 114.30,123.90" fill="#dff2f4" stroke="none"/><polyline points="114.30,122.30 114.55,121.94 114.80,121.61 115.05,121.31 115.30,121.07 115.56,120.90 115.81,120.81 116.06,120.81 116.31,120.89 116.56,121.05 116.81,121.29 117.06,121.58 117.31,121.91 117.56,122.27 117.82,122.63 118.07,122.97 118.32,123.27 118.57,123.51 118.82,123.69 119.07,123.78 119.32,123.79 119.57,123.72 119.83,123.56 120.08,123.33 120.33,123.05 120.58,122.72 120.83,122.36 121.08,122.00 121.33,121.66 121.58,121.36 121.83,121.11 122.09,120.92 122.34,120.82 122.59,120.80 122.84,120.87 123.09,121.02 123.34,121.24 123.59,121.53 123.84,121.86 124.09,122.21 124.35,122.57 124.60,122.91 124.85,123.22 125.10,123.47 125.35,123.66 125.60,123.77 125.85,123.80 126.10,123.74 126.35,123.59 126.61,123.38 126.86,123.10 127.11,122.77 127.36,122.42 127.61,122.06 127.86,121.72 128.11,121.40 128.36,121.14 128.62,120.95 128.87,120.83 129.12,120.80 129.37,120.85 129.62,120.99 129.87,121.20 130.12,121.48 130.37,121.80 130.62,122.15 130.88,122.51 131.13,122.86 131.38,123.17 131.63,123.44 131.88,123.64 132.13,123.76 132.38,123.80 132.63,123.75 132.88,123.62 133.14,123.42 133.39,123.15 133.64,122.83 133.89,122.48 134.14,122.12 134.39,121.77 134.64,121.45 134.89,121.18 135.15,120.98 135.40,120.85 135.65,120.80 135.90,120.84 136.15,120.96 136.40,121.16 136.65,121.43 136.90,121.74 137.15,122.09 137.41,122.45 137.66,122.80 137.91,123.12 138.16,123.40 138.41,123.61 138.66,123.75 138.91,123.80 139.16,123.77 139.41,123.65 139.67,123.46 139.92,123.20 140.17,122.89 140.42,122.54 140.67,122.18 140.92,121.83 141.17,121.50 141.42,121.23 141.67,121.01 141.93,120.86 142.18,120.80 142.43,120.83 142.68,120.94 142.93,121.12 143.18,121.38 143.43,121.69 143.68,122.03 143.94,122.39 144.19,122.74 144.44,123.07 144.69,123.35 144.94,123.58 145.19,123.73 145.44,123.80 145.69,123.78 145.94,123.68 146.20,123.50 146.45,123.25 146.70,122.94 146.95,122.60 147.20,122.24" fill="none" stroke="#6a96b8" stroke-width="0.8"/><polyline points="114.30,123.90 114.55,123.94 114.80,124.07 115.05,124.27 115.30,124.54 115.56,124.86 115.81,125.21 116.06,125.56 116.31,125.91 116.56,126.23 116.81,126.51 117.06,126.72 117.31,126.85 117.56,126.90 117.82,126.86 118.07,126.74 118.32,126.55 118.57,126.28 118.82,125.97 119.07,125.62 119.32,125.27 119.57,124.91 119.83,124.59 120.08,124.31 120.33,124.10 120.58,123.96 120.83,123.90 121.08,123.93 121.33,124.04 121.58,124.23 121.83,124.49 122.09,124.80 122.34,125.15 122.59,125.50 122.84,125.86 123.09,126.18 123.34,126.47 123.59,126.69 123.84,126.83 124.09,126.90 124.35,126.88 124.60,126.77 124.85,126.59 125.10,126.33 125.35,126.03 125.60,125.68 125.85,125.33 126.10,124.97 126.35,124.64 126.61,124.36 126.86,124.13 127.11,123.98 127.36,123.90 127.61,123.92 127.86,124.02 128.11,124.20 128.36,124.44 128.62,124.75 128.87,125.09 129.12,125.44 129.37,125.80 129.62,126.13 129.87,126.42 130.12,126.65 130.37,126.81 130.62,126.89 130.88,126.89 131.13,126.79 131.38,126.62 131.63,126.38 131.88,126.08 132.13,125.74 132.38,125.39 132.63,125.03 132.88,124.70 133.14,124.40 133.39,124.16 133.64,124.00 133.89,123.91 134.14,123.91 134.39,124.00 134.64,124.16 134.89,124.40 135.15,124.69 135.40,125.03 135.65,125.38 135.90,125.74 136.15,126.08 136.40,126.38 136.65,126.62 136.90,126.79 137.15,126.89 137.41,126.89 137.66,126.81 137.91,126.66 138.16,126.42 138.41,126.13 138.66,125.80 138.91,125.45 139.16,125.09 139.41,124.75 139.67,124.45 139.92,124.20 140.17,124.02 140.42,123.92 140.67,123.90 140.92,123.98 141.17,124.13 141.42,124.35 141.67,124.64 141.93,124.97 142.18,125.32 142.43,125.68 142.68,126.02 142.93,126.33 143.18,126.58 143.43,126.77 143.68,126.88 143.94,126.90 144.19,126.83 144.44,126.69 144.69,126.47 144.94,126.19 145.19,125.86 145.44,125.51 145.69,125.15 145.94,124.80 146.20,124.49 146.45,124.24 146.70,124.04 146.95,123.93 147.20,123.90" fill="none" stroke="#72c6cc" stroke-width="0.8"/>
<polyline points="117.80,131.00 118.05,130.66 118.30,130.32 118.55,130.00 118.81,129.69 119.06,129.41 119.31,129.15 119.56,128.93 119.81,128.74 120.06,128.59 120.31,128.48 120.56,128.42 120.82,128.40 121.07,128.43 121.32,128.50 121.57,128.61 121.82,128.76 122.07,128.96 122.32,129.18 122.57,129.44 122.83,129.73 123.08,130.04 123.33,130.36 123.58,130.70 123.83,130.96 124.08,130.62 124.33,130.28 124.58,129.96 124.84,129.66 125.09,129.38 125.34,129.12 125.59,128.90 125.84,128.72 126.09,128.58 126.34,128.47 126.59,128.41 126.85,128.40 127.10,128.43 127.35,128.51 127.60,128.62 127.85,128.78 128.10,128.98 128.35,129.21 128.61,129.48 128.86,129.77 129.11,130.08 129.36,130.40 129.61,130.74 129.86,130.92 130.11,130.58 130.36,130.24 130.62,129.92 130.87,129.62 131.12,129.34 131.37,129.10 131.62,128.88 131.87,128.70 132.12,128.56 132.37,128.46 132.63,128.41 132.88,128.40 133.13,128.44 133.38,128.52 133.63,128.64 133.88,128.81 134.13,129.01 134.38,129.24 134.64,129.51 134.89,129.80 135.14,130.12 135.39,130.45 135.64,130.78 135.89,130.87 136.14,130.53 136.39,130.20 136.65,129.89 136.90,129.59 137.15,129.31 137.40,129.07 137.65,128.86 137.90,128.68 138.15,128.55 138.41,128.46 138.66,128.41 138.91,128.40 139.16,128.45 139.41,128.53 139.66,128.66 139.91,128.83 140.16,129.04 140.42,129.28 140.67,129.55 140.92,129.84 141.17,130.16 141.42,130.49 141.67,130.83 141.92,130.83 142.17,130.49 142.43,130.16 142.68,129.85 142.93,129.55 143.18,129.28 143.43,129.04 143.68,128.83 143.93,128.66 144.18,128.53 144.44,128.45 144.69,128.40 144.94,128.41 145.19,128.45 145.44,128.55 145.69,128.68 145.94,128.85 146.19,129.06 146.45,129.31 146.70,129.58 146.95,129.88 147.20,130.20" fill="none" stroke="#dcaa78" stroke-width="0.8"/>
<polyline points="122.00,139.40 122.25,139.07 122.50,138.74 122.75,138.42 123.00,138.12 123.25,137.83 123.50,137.57 123.75,137.33 124.00,137.12 124.25,136.94 124.50,136.80 124.75,136.70 125.00,136.63 125.25,136.60 125.50,136.61 125.75,136.66 126.00,136.75 126.25,136.88 126.50,137.04 126.75,137.24 127.00,137.47 127.25,137.72 127.50,138.00 127.75,138.30 128.00,138.61 128.25,138.94 128.50,139.27 128.75,139.20 129.00,138.87 129.25,138.55 129.50,138.24 129.75,137.94 130.00,137.67 130.25,137.42 130.50,137.20 130.75,137.01 131.00,136.85 131.25,136.73 131.50,136.65 131.75,136.61 132.00,136.60 132.25,136.64 132.50,136.71 132.75,136.83 133.00,136.98 133.25,137.16 133.50,137.37 133.75,137.62 134.00,137.89 134.25,138.18 134.50,138.48 134.75,138.80 135.00,139.13 135.25,139.33 135.50,139.00 135.75,138.68 136.00,138.36 136.25,138.06 136.50,137.78 136.75,137.52 137.00,137.28 137.25,137.08 137.50,136.91 137.75,136.78 138.00,136.68 138.25,136.62 138.50,136.60 138.75,136.62 139.00,136.68 139.25,136.78 139.50,136.91 139.75,137.08 140.00,137.28 140.25,137.52 140.50,137.78 140.75,138.06 141.00,138.36 141.25,138.68 141.50,139.00 141.75,139.33 142.00,139.13 142.25,138.80 142.50,138.48 142.75,138.18 143.00,137.89 143.25,137.62 143.50,137.37 143.75,137.16 144.00,136.98 144.25,136.83 144.50,136.71 144.75,136.64 145.00,136.60 145.25,136.61 145.50,136.65 145.75,136.73 146.00,136.85 146.25,137.01 146.50,137.20 146.75,137.42 147.00,137.67 147.25,137.94 147.50,138.24 147.75,138.55 148.00,138.87 148.25,139.20 148.50,139.27 148.75,138.94 149.00,138.61 149.25,138.30 149.50,138.00 149.75,137.72 150.00,137.47 150.25,137.24 150.50,137.04 150.75,136.88 151.00,136.75 151.25,136.66 151.50,136.61" fill="none" stroke="#9c8cbc" stroke-width="0.8"/>
<text transform="translate(133.2 146.6) scale(1 1.1)" x="0" y="0" font-size="3.7" font-weight="bold" text-anchor="middle" fill="#111" stroke="#111" stroke-width="0.28" textLength="12.3" lengthAdjust="spacingAndGlyphs">Vehicle</text>
<rect x="155.9" y="119.9" width="41.5" height="22" rx="1.5" fill="#d9d9d9"/>
<rect x="155.6" y="119" width="41.5" height="22" rx="1.5" fill="#fff" stroke="#d6d6d6" stroke-width="0.6"/>
<polygon points="157.60,122.30 157.85,121.94 158.10,121.61 158.35,121.31 158.60,121.07 158.85,120.90 159.10,120.81 159.35,120.81 159.60,120.89 159.85,121.05 160.10,121.28 160.35,121.56 160.60,121.89 160.85,122.25 161.10,122.60 161.35,122.94 161.60,123.25 161.85,123.49 162.10,123.68 162.35,123.78 162.60,123.80 162.85,123.73 163.10,123.58 163.35,123.36 163.60,123.08 163.85,122.75 164.10,122.40 164.35,122.05 164.60,121.70 164.85,121.39 165.10,121.14 165.35,120.95 165.60,120.83 165.85,120.80 166.10,120.86 166.35,120.99 166.60,121.20 166.85,121.48 167.10,121.80 167.35,122.15 167.60,122.50 167.85,122.85 168.10,123.16 168.35,123.43 168.60,123.63 168.85,123.76 169.10,123.80 169.35,123.76 169.60,123.63 169.85,123.43 170.10,123.17 170.35,122.85 170.60,122.51 170.85,122.15 171.10,121.80 171.35,121.48 171.60,121.20 171.85,120.99 172.10,120.86 172.35,120.80 172.60,120.83 172.85,120.94 173.10,121.14 173.35,121.39 173.60,121.70 173.85,122.04 174.10,122.40 174.35,122.75 174.60,123.08 174.85,123.36 175.10,123.58 175.35,123.73 175.60,123.80 175.85,123.78 176.10,123.68 176.35,123.50 176.60,123.25 176.85,122.95 177.10,122.61 177.35,122.25 177.60,121.90 177.85,121.57 178.10,121.28 178.35,121.05 178.60,120.89 178.85,120.81 179.10,120.81 179.35,120.90 179.60,121.07 179.85,121.31 180.10,121.61 180.35,121.94 180.60,122.30 180.85,122.65 181.10,122.99 181.35,123.28 181.60,123.52 181.85,123.69 182.10,123.79 182.35,123.79 182.60,123.71 182.85,123.56 183.10,123.33 183.35,123.04 183.60,122.71 183.85,122.35 184.10,122.00 184.35,121.66 184.60,121.36 184.85,121.11 185.10,120.93 185.35,120.82 185.60,120.80 185.85,120.87 186.10,121.02 186.35,121.24 186.60,121.52 186.85,121.84 187.10,122.19 187.35,122.55 187.60,122.89 187.85,123.20 188.10,123.46 188.35,123.65 188.60,123.77 188.85,123.80 189.10,123.75 189.35,123.61 189.60,123.40 189.60,124.38 189.35,124.67 189.10,125.00 188.85,125.35 188.60,125.71 188.35,126.05 188.10,126.35 187.85,126.60 187.60,126.78 187.35,126.88 187.10,126.90 186.85,126.83 186.60,126.68 186.35,126.46 186.10,126.18 185.85,125.85 185.60,125.50 185.35,125.14 185.10,124.80 184.85,124.49 184.60,124.23 184.35,124.04 184.10,123.93 183.85,123.90 183.60,123.96 183.35,124.09 183.10,124.31 182.85,124.58 182.60,124.90 182.35,125.25 182.10,125.61 181.85,125.95 181.60,126.27 181.35,126.53 181.10,126.73 180.85,126.86 180.60,126.90 180.35,126.86 180.10,126.73 179.85,126.53 179.60,126.26 179.35,125.95 179.10,125.60 178.85,125.24 178.60,124.90 178.35,124.58 178.10,124.30 177.85,124.09 177.60,123.95 177.35,123.90 177.10,123.93 176.85,124.05 176.60,124.24 176.35,124.50 176.10,124.80 175.85,125.15 175.60,125.50 175.35,125.86 175.10,126.18 174.85,126.46 174.60,126.68 174.35,126.83 174.10,126.90 173.85,126.88 173.60,126.78 173.35,126.59 173.10,126.35 172.85,126.04 172.60,125.70 172.35,125.35 172.10,124.99 171.85,124.66 171.60,124.37 171.35,124.14 171.10,123.99 170.85,123.91 170.60,123.91 170.35,124.01 170.10,124.18 169.85,124.42 169.60,124.71 169.35,125.05 169.10,125.40 168.85,125.76 168.60,126.09 168.35,126.39 168.10,126.63 167.85,126.80 167.60,126.89 167.35,126.89 167.10,126.81 166.85,126.65 166.60,126.42 166.35,126.13 166.10,125.80 165.85,125.45 165.60,125.09 165.35,124.75 165.10,124.45 164.85,124.20 164.60,124.02 164.35,123.92 164.10,123.90 163.85,123.97 163.60,124.12 163.35,124.34 163.10,124.62 162.85,124.95 162.60,125.30 162.35,125.66 162.10,126.00 161.85,126.31 161.60,126.56 161.35,126.75 161.10,126.87 160.85,126.90 160.60,126.84 160.35,126.71 160.10,126.50 159.85,126.22 159.60,125.90 159.35,125.55 159.10,125.20 158.85,124.85 158.60,124.53 158.35,124.27 158.10,124.07 157.85,123.94 157.60,123.90" fill="#dff2f4" stroke="none"/><polyline points="157.60,122.30 157.85,121.94 158.10,121.61 158.35,121.31 158.60,121.07 158.85,120.90 159.10,120.81 159.35,120.81 159.60,120.89 159.85,121.05 160.10,121.28 160.35,121.56 160.60,121.89 160.85,122.25 161.10,122.60 161.35,122.94 161.60,123.25 161.85,123.49 162.10,123.68 162.35,123.78 162.60,123.80 162.85,123.73 163.10,123.58 163.35,123.36 163.60,123.08 163.85,122.75 164.10,122.40 164.35,122.05 164.60,121.70 164.85,121.39 165.10,121.14 165.35,120.95 165.60,120.83 165.85,120.80 166.10,120.86 166.35,120.99 166.60,121.20 166.85,121.48 167.10,121.80 167.35,122.15 167.60,122.50 167.85,122.85 168.10,123.16 168.35,123.43 168.60,123.63 168.85,123.76 169.10,123.80 169.35,123.76 169.60,123.63 169.85,123.43 170.10,123.17 170.35,122.85 170.60,122.51 170.85,122.15 171.10,121.80 171.35,121.48 171.60,121.20 171.85,120.99 172.10,120.86 172.35,120.80 172.60,120.83 172.85,120.94 173.10,121.14 173.35,121.39 173.60,121.70 173.85,122.04 174.10,122.40 174.35,122.75 174.60,123.08 174.85,123.36 175.10,123.58 175.35,123.73 175.60,123.80 175.85,123.78 176.10,123.68 176.35,123.50 176.60,123.25 176.85,122.95 177.10,122.61 177.35,122.25 177.60,121.90 177.85,121.57 178.10,121.28 178.35,121.05 178.60,120.89 178.85,120.81 179.10,120.81 179.35,120.90 179.60,121.07 179.85,121.31 180.10,121.61 180.35,121.94 180.60,122.30 180.85,122.65 181.10,122.99 181.35,123.28 181.60,123.52 181.85,123.69 182.10,123.79 182.35,123.79 182.60,123.71 182.85,123.56 183.10,123.33 183.35,123.04 183.60,122.71 183.85,122.35 184.10,122.00 184.35,121.66 184.60,121.36 184.85,121.11 185.10,120.93 185.35,120.82 185.60,120.80 185.85,120.87 186.10,121.02 186.35,121.24 186.60,121.52 186.85,121.84 187.10,122.19 187.35,122.55 187.60,122.89 187.85,123.20 188.10,123.46 188.35,123.65 188.60,123.77 188.85,123.80 189.10,123.75 189.35,123.61 189.60,123.40" fill="none" stroke="#6a96b8" stroke-width="0.8"/><polyline points="157.60,123.90 157.85,123.94 158.10,124.07 158.35,124.27 158.60,124.53 158.85,124.85 159.10,125.20 159.35,125.55 159.60,125.90 159.85,126.22 160.10,126.50 160.35,126.71 160.60,126.84 160.85,126.90 161.10,126.87 161.35,126.75 161.60,126.56 161.85,126.31 162.10,126.00 162.35,125.66 162.60,125.30 162.85,124.95 163.10,124.62 163.35,124.34 163.60,124.12 163.85,123.97 164.10,123.90 164.35,123.92 164.60,124.02 164.85,124.20 165.10,124.45 165.35,124.75 165.60,125.09 165.85,125.45 166.10,125.80 166.35,126.13 166.60,126.42 166.85,126.65 167.10,126.81 167.35,126.89 167.60,126.89 167.85,126.80 168.10,126.63 168.35,126.39 168.60,126.09 168.85,125.76 169.10,125.40 169.35,125.05 169.60,124.71 169.85,124.42 170.10,124.18 170.35,124.01 170.60,123.91 170.85,123.91 171.10,123.99 171.35,124.14 171.60,124.37 171.85,124.66 172.10,124.99 172.35,125.35 172.60,125.70 172.85,126.04 173.10,126.35 173.35,126.59 173.60,126.78 173.85,126.88 174.10,126.90 174.35,126.83 174.60,126.68 174.85,126.46 175.10,126.18 175.35,125.86 175.60,125.50 175.85,125.15 176.10,124.80 176.35,124.50 176.60,124.24 176.85,124.05 177.10,123.93 177.35,123.90 177.60,123.95 177.85,124.09 178.10,124.30 178.35,124.58 178.60,124.90 178.85,125.24 179.10,125.60 179.35,125.95 179.60,126.26 179.85,126.53 180.10,126.73 180.35,126.86 180.60,126.90 180.85,126.86 181.10,126.73 181.35,126.53 181.60,126.27 181.85,125.95 182.10,125.61 182.35,125.25 182.60,124.90 182.85,124.58 183.10,124.31 183.35,124.09 183.60,123.96 183.85,123.90 184.10,123.93 184.35,124.04 184.60,124.23 184.85,124.49 185.10,124.80 185.35,125.14 185.60,125.50 185.85,125.85 186.10,126.18 186.35,126.46 186.60,126.68 186.85,126.83 187.10,126.90 187.35,126.88 187.60,126.78 187.85,126.60 188.10,126.35 188.35,126.05 188.60,125.71 188.85,125.35 189.10,125.00 189.35,124.67 189.60,124.38" fill="none" stroke="#72c6cc" stroke-width="0.8"/>
<polyline points="164.50,139.40 164.75,139.07 165.00,138.74 165.25,138.42 165.51,138.11 165.76,137.82 166.01,137.56 166.26,137.32 166.51,137.11 166.76,136.94 167.01,136.79 167.26,136.69 167.52,136.63 167.77,136.60 168.02,136.62 168.27,136.67 168.52,136.76 168.77,136.89 169.02,137.06 169.27,137.26 169.53,137.49 169.78,137.75 170.03,138.03 170.28,138.33 170.53,138.65 170.78,138.98 171.03,139.31 171.28,139.15 171.54,138.82 171.79,138.50 172.04,138.19 172.29,137.90 172.54,137.63 172.79,137.38 173.04,137.16 173.29,136.98 173.55,136.83 173.80,136.71 174.05,136.64 174.30,136.60 174.55,136.61 174.80,136.65 175.05,136.73 175.31,136.86 175.56,137.01 175.81,137.21 176.06,137.43 176.31,137.68 176.56,137.96 176.81,138.25 177.06,138.57 177.32,138.89 177.57,139.22 177.82,139.24 178.07,138.91 178.32,138.58 178.57,138.27 178.82,137.97 179.07,137.70 179.33,137.44 179.58,137.22 179.83,137.02 180.08,136.86 180.33,136.74 180.58,136.66 180.83,136.61 181.08,136.60 181.34,136.64 181.59,136.71 181.84,136.82 182.09,136.97 182.34,137.15 182.59,137.37 182.84,137.61 183.09,137.88 183.35,138.17 183.60,138.48 183.85,138.80 184.10,139.13 184.35,139.33 184.60,139.00 184.85,138.67 185.11,138.35 185.36,138.05 185.61,137.77 185.86,137.51 186.11,137.27 186.36,137.07 186.61,136.90 186.86,136.77 187.12,136.67 187.37,136.62 187.62,136.60 187.87,136.62 188.12,136.69 188.37,136.79 188.62,136.93 188.87,137.10 189.13,137.31 189.38,137.54 189.63,137.81 189.88,138.09 190.13,138.40 190.38,138.72 190.63,139.05 190.88,139.38 191.14,139.09 191.39,138.76 191.64,138.44 191.89,138.13 192.14,137.84 192.39,137.57 192.64,137.33 192.89,137.12 193.15,136.94 193.40,136.80 193.65,136.70 193.90,136.63" fill="none" stroke="#a89cc0" stroke-width="0.8"/>
<text transform="translate(175.2 146.6) scale(1 1.1)" x="0" y="0" font-size="3.7" font-weight="bold" text-anchor="middle" fill="#111" stroke="#111" stroke-width="0.28" textLength="16" lengthAdjust="spacingAndGlyphs">IACS10759</text>
<text transform="translate(164 116.6) scale(1 1.1)" x="0" y="0" font-size="3.75" font-weight="normal" text-anchor="middle" fill="#111" stroke="#111" stroke-width="0.28" textLength="35" lengthAdjust="spacingAndGlyphs">Synthetic lethal hit</text>
<path d="M150.7,117.6 L147.4,128.4" stroke="#444" stroke-width="0.5"/>
<text x="108.5" y="150.6" font-size="2.4" text-anchor="middle" fill="#c4c4c4" textLength="72" lengthAdjust="spacingAndGlyphs">Copyright © 2019 The Authors; licensed under Creative Commons Attribution License</text>
<text x="344.7" y="15.4" font-size="5.9" font-weight="normal" text-anchor="middle" fill="#111" stroke="#111" stroke-width="0.3" textLength="22.9" lengthAdjust="spacingAndGlyphs">wilcox.p</text>
<text x="373.2" y="15.4" font-size="5.9" font-weight="normal" text-anchor="middle" fill="#111" stroke="#111" stroke-width="0.3" textLength="23.3" lengthAdjust="spacingAndGlyphs">wilcox.q</text>
<text x="401.6" y="15.4" font-size="5.9" font-weight="normal" text-anchor="middle" fill="#111" stroke="#111" stroke-width="0.3" textLength="25" lengthAdjust="spacingAndGlyphs">diffScore</text>
<path d="M330.4,17.6 H416" stroke="#333" stroke-width="0.8"/>
<text x="328.8" y="24.55" font-size="5.9" font-weight="normal" text-anchor="end" fill="#111" stroke="#111" stroke-width="0.3" textLength="17.8" lengthAdjust="spacingAndGlyphs">HDAC3</text>
<text x="344.5" y="24.55" font-size="5.9" font-weight="normal" text-anchor="middle" fill="#111" stroke="#111" stroke-width="0.3" textLength="17.4" lengthAdjust="spacingAndGlyphs">0.0001</text>
<text x="373.3" y="24.55" font-size="5.9" font-weight="normal" text-anchor="middle" fill="#111" stroke="#111" stroke-width="0.3" textLength="15.3" lengthAdjust="spacingAndGlyphs">0.010</text>
<text x="401.4" y="24.55" font-size="5.9" font-weight="normal" text-anchor="middle" fill="#111" stroke="#111" stroke-width="0.3" textLength="11" lengthAdjust="spacingAndGlyphs">9.58</text>
<text x="328.8" y="33.480000000000004" font-size="5.9" font-weight="normal" text-anchor="end" fill="#111" stroke="#111" stroke-width="0.3" textLength="12.0" lengthAdjust="spacingAndGlyphs">BMX</text>
<text x="344.5" y="33.480000000000004" font-size="5.9" font-weight="normal" text-anchor="middle" fill="#111" stroke="#111" stroke-width="0.3" textLength="17.4" lengthAdjust="spacingAndGlyphs">0.0015</text>
<text x="373.3" y="33.480000000000004" font-size="5.9" font-weight="normal" text-anchor="middle" fill="#111" stroke="#111" stroke-width="0.3" textLength="15.3" lengthAdjust="spacingAndGlyphs">0.040</text>
<text x="401.4" y="33.480000000000004" font-size="5.9" font-weight="normal" text-anchor="middle" fill="#111" stroke="#111" stroke-width="0.3" textLength="11" lengthAdjust="spacingAndGlyphs">5.85</text>
<text x="328.8" y="42.410000000000004" font-size="5.9" font-weight="normal" text-anchor="end" fill="#111" stroke="#111" stroke-width="0.3" textLength="14.5" lengthAdjust="spacingAndGlyphs">TYMS</text>
<text x="344.5" y="42.410000000000004" font-size="5.9" font-weight="normal" text-anchor="middle" fill="#111" stroke="#111" stroke-width="0.3" textLength="17.4" lengthAdjust="spacingAndGlyphs">0.0001</text>
<text x="373.3" y="42.410000000000004" font-size="5.9" font-weight="normal" text-anchor="middle" fill="#111" stroke="#111" stroke-width="0.3" textLength="15.3" lengthAdjust="spacingAndGlyphs">0.010</text>
<text x="401.4" y="42.410000000000004" font-size="5.9" font-weight="normal" text-anchor="middle" fill="#111" stroke="#111" stroke-width="0.3" textLength="11" lengthAdjust="spacingAndGlyphs">5.52</text>
<text x="328.8" y="51.34" font-size="5.9" font-weight="normal" text-anchor="end" fill="#111" stroke="#111" stroke-width="0.3" textLength="14.0" lengthAdjust="spacingAndGlyphs">CDK4</text>
<text x="344.5" y="51.34" font-size="5.9" font-weight="normal" text-anchor="middle" fill="#111" stroke="#111" stroke-width="0.3" textLength="17.4" lengthAdjust="spacingAndGlyphs">0.0056</text>
<text x="373.3" y="51.34" font-size="5.9" font-weight="normal" text-anchor="middle" fill="#111" stroke="#111" stroke-width="0.3" textLength="15.3" lengthAdjust="spacingAndGlyphs">0.098</text>
<text x="401.4" y="51.34" font-size="5.9" font-weight="normal" text-anchor="middle" fill="#111" stroke="#111" stroke-width="0.3" textLength="11" lengthAdjust="spacingAndGlyphs">5.27</text>
<text x="328.8" y="60.27" font-size="5.9" font-weight="normal" text-anchor="end" fill="#111" stroke="#111" stroke-width="0.3" textLength="14.5" lengthAdjust="spacingAndGlyphs">ABL2</text>
<text x="344.5" y="60.27" font-size="5.9" font-weight="normal" text-anchor="middle" fill="#111" stroke="#111" stroke-width="0.3" textLength="17.4" lengthAdjust="spacingAndGlyphs">0.0006</text>
<text x="373.3" y="60.27" font-size="5.9" font-weight="normal" text-anchor="middle" fill="#111" stroke="#111" stroke-width="0.3" textLength="15.3" lengthAdjust="spacingAndGlyphs">0.028</text>
<text x="401.4" y="60.27" font-size="5.9" font-weight="normal" text-anchor="middle" fill="#111" stroke="#111" stroke-width="0.3" textLength="11" lengthAdjust="spacingAndGlyphs">5.21</text>
<text x="328.8" y="69.2" font-size="5.9" font-weight="normal" text-anchor="end" fill="#111" stroke="#111" stroke-width="0.3" textLength="17.8" lengthAdjust="spacingAndGlyphs">PARP1</text>
<text x="344.5" y="69.2" font-size="5.9" font-weight="normal" text-anchor="middle" fill="#111" stroke="#111" stroke-width="0.3" textLength="17.4" lengthAdjust="spacingAndGlyphs">0.0004</text>
<text x="373.3" y="69.2" font-size="5.9" font-weight="normal" text-anchor="middle" fill="#111" stroke="#111" stroke-width="0.3" textLength="15.3" lengthAdjust="spacingAndGlyphs">0.026</text>
<text x="401.4" y="69.2" font-size="5.9" font-weight="normal" text-anchor="middle" fill="#111" stroke="#111" stroke-width="0.3" textLength="11" lengthAdjust="spacingAndGlyphs">4.88</text>
<text x="328.8" y="78.13000000000001" font-size="5.9" font-weight="normal" text-anchor="end" fill="#111" stroke="#111" stroke-width="0.3" textLength="19.0" lengthAdjust="spacingAndGlyphs">MAPK7</text>
<text x="344.5" y="78.13000000000001" font-size="5.9" font-weight="normal" text-anchor="middle" fill="#111" stroke="#111" stroke-width="0.3" textLength="17.4" lengthAdjust="spacingAndGlyphs">0.0007</text>
<text x="373.3" y="78.13000000000001" font-size="5.9" font-weight="normal" text-anchor="middle" fill="#111" stroke="#111" stroke-width="0.3" textLength="15.3" lengthAdjust="spacingAndGlyphs">0.028</text>
<text x="401.4" y="78.13000000000001" font-size="5.9" font-weight="normal" text-anchor="middle" fill="#111" stroke="#111" stroke-width="0.3" textLength="11" lengthAdjust="spacingAndGlyphs">4.21</text>
<text x="328.8" y="87.06" font-size="5.9" font-weight="normal" text-anchor="end" fill="#111" stroke="#111" stroke-width="0.3" textLength="17.8" lengthAdjust="spacingAndGlyphs">PARP2</text>
<text x="344.5" y="87.06" font-size="5.9" font-weight="normal" text-anchor="middle" fill="#111" stroke="#111" stroke-width="0.3" textLength="17.4" lengthAdjust="spacingAndGlyphs">0.0029</text>
<text x="373.3" y="87.06" font-size="5.9" font-weight="normal" text-anchor="middle" fill="#111" stroke="#111" stroke-width="0.3" textLength="15.3" lengthAdjust="spacingAndGlyphs">0.061</text>
<text x="401.4" y="87.06" font-size="5.9" font-weight="normal" text-anchor="middle" fill="#111" stroke="#111" stroke-width="0.3" textLength="11" lengthAdjust="spacingAndGlyphs">4.21</text>
<text x="328.8" y="95.99" font-size="5.9" font-weight="normal" text-anchor="end" fill="#111" stroke="#111" stroke-width="0.3" textLength="14.5" lengthAdjust="spacingAndGlyphs">DRD2</text>
<text x="344.5" y="95.99" font-size="5.9" font-weight="normal" text-anchor="middle" fill="#111" stroke="#111" stroke-width="0.3" textLength="17.4" lengthAdjust="spacingAndGlyphs">0.0018</text>
<text x="373.3" y="95.99" font-size="5.9" font-weight="normal" text-anchor="middle" fill="#111" stroke="#111" stroke-width="0.3" textLength="15.3" lengthAdjust="spacingAndGlyphs">0.043</text>
<text x="401.4" y="95.99" font-size="5.9" font-weight="normal" text-anchor="middle" fill="#111" stroke="#111" stroke-width="0.3" textLength="11" lengthAdjust="spacingAndGlyphs">4.09</text>
<text x="328.8" y="104.92" font-size="5.9" font-weight="normal" text-anchor="end" fill="#111" stroke="#111" stroke-width="0.3" textLength="9.5" lengthAdjust="spacingAndGlyphs">TEC</text>
<text x="344.5" y="104.92" font-size="5.9" font-weight="normal" text-anchor="middle" fill="#111" stroke="#111" stroke-width="0.3" textLength="17.4" lengthAdjust="spacingAndGlyphs">0.0054</text>
<text x="373.3" y="104.92" font-size="5.9" font-weight="normal" text-anchor="middle" fill="#111" stroke="#111" stroke-width="0.3" textLength="15.3" lengthAdjust="spacingAndGlyphs">0.098</text>
<text x="401.4" y="104.92" font-size="5.9" font-weight="normal" text-anchor="middle" fill="#111" stroke="#111" stroke-width="0.3" textLength="11" lengthAdjust="spacingAndGlyphs">3.43</text>
<text x="328.8" y="113.85000000000001" font-size="5.9" font-weight="normal" text-anchor="end" fill="#111" stroke="#111" stroke-width="0.3" textLength="18.0" lengthAdjust="spacingAndGlyphs">PSMB1</text>
<text x="344.5" y="113.85000000000001" font-size="5.9" font-weight="normal" text-anchor="middle" fill="#111" stroke="#111" stroke-width="0.3" textLength="17.4" lengthAdjust="spacingAndGlyphs">0.0013</text>
<text x="373.3" y="113.85000000000001" font-size="5.9" font-weight="normal" text-anchor="middle" fill="#111" stroke="#111" stroke-width="0.3" textLength="15.3" lengthAdjust="spacingAndGlyphs">0.040</text>
<text x="401.4" y="113.85000000000001" font-size="5.9" font-weight="normal" text-anchor="middle" fill="#111" stroke="#111" stroke-width="0.3" textLength="11" lengthAdjust="spacingAndGlyphs">2.67</text>
<text x="6.9" y="210.3" font-size="5" font-weight="bold" fill="#111" stroke="#111" stroke-width="0.35" text-anchor="middle" transform="rotate(-90 6.9 210.3)" textLength="24.7" lengthAdjust="spacingAndGlyphs">BCX.010-CL</text>
<text x="5.1" y="303.3" font-size="5.1" font-weight="bold" fill="#111" stroke="#111" stroke-width="0.35" text-anchor="middle" transform="rotate(-90 5.1 303.3)" textLength="29.2" lengthAdjust="spacingAndGlyphs">MDA-MB-468</text>
<path d="M27.8,177.6 V236.2 H116.2" stroke="#333" stroke-width="0.95" fill="none"/>
<path d="M26.5,187.5 H27.8" stroke="#333" stroke-width="0.7"/>
<text x="26.3" y="189.05" font-size="4.3" font-weight="normal" text-anchor="end" fill="#111" stroke="#111" stroke-width="0.3" >1.0</text>
<path d="M26.5,211.85 H27.8" stroke="#333" stroke-width="0.7"/>
<text x="26.3" y="213.4" font-size="4.3" font-weight="normal" text-anchor="end" fill="#111" stroke="#111" stroke-width="0.3" >0.5</text>
<path d="M26.5,236.2 H27.8" stroke="#333" stroke-width="0.7"/>
<text x="26.3" y="237.75" font-size="4.3" font-weight="normal" text-anchor="end" fill="#111" stroke="#111" stroke-width="0.3" >0.0</text>
<path d="M47,236.2 V237.5" stroke="#333" stroke-width="0.7"/>
<text x="47" y="242.6" font-size="4.1" font-weight="normal" text-anchor="middle" fill="#111" stroke="#111" stroke-width="0.3" >1</text>
<path d="M72.2,236.2 V237.5" stroke="#333" stroke-width="0.7"/>
<text x="72.2" y="242.6" font-size="4.1" font-weight="normal" text-anchor="middle" fill="#111" stroke="#111" stroke-width="0.3" >100</text>
<path d="M97.3,236.2 V237.5" stroke="#333" stroke-width="0.7"/>
<text x="97.3" y="242.6" font-size="4.1" font-weight="normal" text-anchor="middle" fill="#111" stroke="#111" stroke-width="0.3" >10,000</text>
<text x="71.8" y="168.1" font-size="4.8" font-weight="bold" text-anchor="middle" fill="#000" stroke="#000" stroke-width="0.35" textLength="57" lengthAdjust="spacingAndGlyphs">IACS-10759 + Palbociclib</text>
<text x="73.5" y="248.6" font-size="4.85" font-weight="bold" text-anchor="middle" fill="#000" stroke="#000" stroke-width="0.35" textLength="40.5" lengthAdjust="spacingAndGlyphs">Drug (log nmol/L)</text>
<text x="16.9" y="210.6" font-size="4.7" font-weight="bold" fill="#111" stroke="#111" stroke-width="0.28" text-anchor="middle" transform="rotate(-90 16.9 210.6)" textLength="28" lengthAdjust="spacingAndGlyphs">Cell survival</text>
<path d="M37.80,189.85 L39.38,189.88 L40.95,189.92 L42.52,189.97 L44.10,190.02 L45.67,190.08 L47.25,190.16 L48.82,190.25 L50.40,190.36 L51.97,190.49 L53.55,190.65 L55.12,190.84 L56.70,191.06 L58.27,191.32 L59.85,191.63 L61.42,191.99 L63.00,192.42 L64.57,192.91 L66.15,193.49 L67.72,194.15 L69.30,194.91 L70.88,195.76 L72.45,196.72 L74.03,197.78 L75.60,198.94 L77.17,200.19 L78.75,201.52 L80.32,202.91 L81.90,204.34 L83.47,205.79 L85.05,207.23 L86.62,208.64 L88.20,209.99 L89.78,211.28 L91.35,212.47 L92.92,213.57 L94.50,214.57 L96.07,215.47 L97.65,216.26 L99.22,216.96 L100.80,217.57" stroke="#1d4a22" stroke-width="0.85" fill="none"/>
<rect x="36.60" y="188.50" width="2.4" height="2.4" fill="#0f3014"/>
<path d="M50.8,186.9 V192.9 M49.599999999999994,186.9 H52.0 M49.599999999999994,192.9 H52.0" stroke="#1d4a22" stroke-width="0.7" fill="none"/>
<rect x="49.60" y="188.70" width="2.4" height="2.4" fill="#0f3014"/>
<path d="M63.3,188.3 V194.3 M62.099999999999994,188.3 H64.5 M62.099999999999994,194.3 H64.5" stroke="#1d4a22" stroke-width="0.7" fill="none"/>
<rect x="62.10" y="190.10" width="2.4" height="2.4" fill="#0f3014"/>
<path d="M75.8,196.2 V202.2 M74.6,196.2 H77.0 M74.6,202.2 H77.0" stroke="#1d4a22" stroke-width="0.7" fill="none"/>
<rect x="74.60" y="198.00" width="2.4" height="2.4" fill="#0f3014"/>
<path d="M88.3,205 V215 M87.1,205 H89.5 M87.1,215 H89.5" stroke="#1d4a22" stroke-width="0.7" fill="none"/>
<rect x="87.10" y="208.80" width="2.4" height="2.4" fill="#0f3014"/>
<path d="M100.8,214 V222 M99.6,214 H102.0 M99.6,222 H102.0" stroke="#1d4a22" stroke-width="0.7" fill="none"/>
<rect x="99.60" y="216.80" width="2.4" height="2.4" fill="#0f3014"/>
<path d="M42.90,197.20 L44.48,197.20 L46.05,197.20 L47.63,197.20 L49.21,197.20 L50.79,197.20 L52.36,197.20 L53.94,197.20 L55.52,197.20 L57.10,197.20 L58.67,197.20 L60.25,197.20 L61.83,197.20 L63.41,197.20 L64.98,197.21 L66.56,197.21 L68.14,197.21 L69.72,197.22 L71.30,197.22 L72.87,197.23 L74.45,197.24 L76.03,197.26 L77.60,197.29 L79.18,197.32 L80.76,197.37 L82.34,197.45 L83.91,197.55 L85.49,197.70 L87.07,197.90 L88.65,198.19 L90.22,198.59 L91.80,199.15 L93.38,199.91 L94.96,200.95 L96.53,202.34 L98.11,204.14 L99.69,206.43 L101.27,209.22 L102.84,212.46 L104.42,216.05 L106.00,219.79" stroke="#7e1a2a" stroke-width="0.85" fill="none"/>
<path d="M42.9,193.4 V201.4 M41.699999999999996,193.4 H44.1 M41.699999999999996,201.4 H44.1" stroke="#7e1a2a" stroke-width="0.7" fill="none"/>
<rect x="41.70" y="196.20" width="2.4" height="2.4" fill="#8a0f20"/>
<path d="M55.6,193.4 V201.4 M54.4,193.4 H56.800000000000004 M54.4,201.4 H56.800000000000004" stroke="#7e1a2a" stroke-width="0.7" fill="none"/>
<rect x="54.40" y="196.20" width="2.4" height="2.4" fill="#8a0f20"/>
<path d="M68.3,192.3 V200.3 M67.1,192.3 H69.5 M67.1,200.3 H69.5" stroke="#7e1a2a" stroke-width="0.7" fill="none"/>
<rect x="67.10" y="195.10" width="2.4" height="2.4" fill="#8a0f20"/>
<path d="M80.8,193.5 V201.5 M79.6,193.5 H82.0 M79.6,201.5 H82.0" stroke="#7e1a2a" stroke-width="0.7" fill="none"/>
<rect x="79.60" y="196.30" width="2.4" height="2.4" fill="#8a0f20"/>
<path d="M93.3,199.3 V203.3 M92.1,199.3 H94.5 M92.1,203.3 H94.5" stroke="#7e1a2a" stroke-width="0.7" fill="none"/>
<rect x="92.10" y="200.10" width="2.4" height="2.4" fill="#8a0f20"/>
<path d="M106,218 V222 M104.8,218 H107.2 M104.8,222 H107.2" stroke="#7e1a2a" stroke-width="0.7" fill="none"/>
<rect x="104.80" y="218.80" width="2.4" height="2.4" fill="#8a0f20"/>
<path d="M42.90,197.41 L44.48,197.43 L46.05,197.46 L47.63,197.49 L49.21,197.53 L50.79,197.58 L52.36,197.64 L53.94,197.72 L55.52,197.80 L57.10,197.91 L58.67,198.03 L60.25,198.18 L61.83,198.37 L63.41,198.59 L64.98,198.85 L66.56,199.16 L68.14,199.53 L69.72,199.97 L71.30,200.48 L72.87,201.09 L74.45,201.79 L76.03,202.61 L77.60,203.54 L79.18,204.60 L80.76,205.80 L82.34,207.12 L83.91,208.56 L85.49,210.11 L87.07,211.76 L88.65,213.48 L90.22,215.23 L91.80,216.99 L93.38,218.73 L94.96,220.41 L96.53,222.02 L98.11,223.51 L99.69,224.89 L101.27,226.15 L102.84,227.27 L104.42,228.26 L106.00,229.13" stroke="#f08a98" stroke-width="0.85" fill="none"/>
<path d="M42.9,193.4 V201.4 M41.699999999999996,193.4 H44.1 M41.699999999999996,201.4 H44.1" stroke="#f08a98" stroke-width="0.7" fill="none"/>
<rect x="41.70" y="196.20" width="2.4" height="2.4" fill="#f08a98"/>
<path d="M55.6,193.4 V201.4 M54.4,193.4 H56.800000000000004 M54.4,201.4 H56.800000000000004" stroke="#f08a98" stroke-width="0.7" fill="none"/>
<rect x="54.40" y="196.20" width="2.4" height="2.4" fill="#f08a98"/>
<path d="M68.3,194 V202 M67.1,194 H69.5 M67.1,202 H69.5" stroke="#f08a98" stroke-width="0.7" fill="none"/>
<rect x="67.10" y="196.80" width="2.4" height="2.4" fill="#f08a98"/>
<path d="M80.8,201.8 V209.8 M79.6,201.8 H82.0 M79.6,209.8 H82.0" stroke="#f08a98" stroke-width="0.7" fill="none"/>
<rect x="79.60" y="204.60" width="2.4" height="2.4" fill="#f08a98"/>
<path d="M93.3,214.3 V222.3 M92.1,214.3 H94.5 M92.1,222.3 H94.5" stroke="#f08a98" stroke-width="0.7" fill="none"/>
<rect x="92.10" y="217.10" width="2.4" height="2.4" fill="#f08a98"/>
<path d="M106,226.2 V232.2 M104.8,226.2 H107.2 M104.8,232.2 H107.2" stroke="#f08a98" stroke-width="0.7" fill="none"/>
<rect x="104.80" y="228.00" width="2.4" height="2.4" fill="#f08a98"/>
<path d="M37.80,197.56 L39.38,197.57 L40.95,197.59 L42.52,197.61 L44.10,197.64 L45.67,197.67 L47.25,197.71 L48.82,197.76 L50.40,197.82 L51.97,197.89 L53.55,197.98 L55.12,198.09 L56.70,198.23 L58.27,198.40 L59.85,198.60 L61.42,198.85 L63.00,199.15 L64.57,199.51 L66.15,199.95 L67.72,200.47 L69.30,201.10 L70.88,201.84 L72.45,202.71 L74.03,203.72 L75.60,204.88 L77.17,206.19 L78.75,207.65 L80.32,209.26 L81.90,211.00 L83.47,212.83 L85.05,214.72 L86.62,216.63 L88.20,218.53 L89.78,220.36 L91.35,222.10 L92.92,223.72 L94.50,225.20 L96.07,226.53 L97.65,227.70 L99.22,228.72 L100.80,229.60" stroke="#35a043" stroke-width="0.85" fill="none"/>
<path d="M37.8,194.3 V202.3 M36.599999999999994,194.3 H39.0 M36.599999999999994,202.3 H39.0" stroke="#35a043" stroke-width="0.7" fill="none"/>
<rect x="36.60" y="197.10" width="2.4" height="2.4" fill="#2a9a3c"/>
<path d="M50.8,192.5 V200.5 M49.599999999999994,192.5 H52.0 M49.599999999999994,200.5 H52.0" stroke="#35a043" stroke-width="0.7" fill="none"/>
<rect x="49.60" y="195.30" width="2.4" height="2.4" fill="#2a9a3c"/>
<path d="M63.3,194.3 V202.3 M62.099999999999994,194.3 H64.5 M62.099999999999994,202.3 H64.5" stroke="#35a043" stroke-width="0.7" fill="none"/>
<rect x="62.10" y="197.10" width="2.4" height="2.4" fill="#2a9a3c"/>
<path d="M75.8,199 V211 M74.6,199 H77.0 M74.6,211 H77.0" stroke="#35a043" stroke-width="0.7" fill="none"/>
<rect x="74.60" y="203.80" width="2.4" height="2.4" fill="#2a9a3c"/>
<path d="M88.3,213.3 V223.3 M87.1,213.3 H89.5 M87.1,223.3 H89.5" stroke="#35a043" stroke-width="0.7" fill="none"/>
<rect x="87.10" y="217.10" width="2.4" height="2.4" fill="#2a9a3c"/>
<path d="M100.8,226.2 V232.2 M99.6,226.2 H102.0 M99.6,232.2 H102.0" stroke="#35a043" stroke-width="0.7" fill="none"/>
<rect x="99.60" y="228.00" width="2.4" height="2.4" fill="#2a9a3c"/>
<text x="103.6" y="177.7" font-size="4.9" fill="#111" stroke="#111" stroke-width="0.18">IC<tspan font-size="3.2" dy="1.1">50</tspan><tspan dy="-1.1"> (nmol/L):</tspan></text>
<path d="M103.60000000000001,182.8 H109.2" stroke="#b84050" stroke-width="0.8"/>
<circle cx="106.4" cy="182.8" r="1.25" fill="#5a0f1e"/>
<text x="112.8" y="184.70000000000002" font-size="4.4" font-weight="normal" text-anchor="start" fill="#111" stroke="#111" stroke-width="0.18" textLength="54.63" lengthAdjust="spacingAndGlyphs">IACS-10759 in single: 34,840</text>
<path d="M103.60000000000001,189.7 H109.2" stroke="#eca0b0" stroke-width="0.8"/>
<circle cx="106.4" cy="189.7" r="1.25" fill="#e890a8"/>
<text x="112.8" y="191.6" font-size="4.4" font-weight="normal" text-anchor="start" fill="#111" stroke="#111" stroke-width="0.18" textLength="53.93" lengthAdjust="spacingAndGlyphs">IACS-10759 in combo: 2,070</text>
<path d="M103.60000000000001,198.9 H109.2" stroke="#2a6a2a" stroke-width="0.8"/>
<circle cx="106.4" cy="198.9" r="1.25" fill="#0a3a0a"/>
<text x="112.8" y="200.8" font-size="4.4" font-weight="normal" text-anchor="start" fill="#111" stroke="#111" stroke-width="0.18" textLength="49.5" lengthAdjust="spacingAndGlyphs">Palbociclib in single: 4,952</text>
<path d="M103.60000000000001,205.3 H109.2" stroke="#5cc05c" stroke-width="0.8"/>
<circle cx="106.4" cy="205.3" r="1.25" fill="#2f9a35"/>
<text x="112.8" y="207.20000000000002" font-size="4.4" font-weight="normal" text-anchor="start" fill="#111" stroke="#111" stroke-width="0.18" textLength="47.62" lengthAdjust="spacingAndGlyphs">Palbociclib in combo: 828</text>
<text x="117.3" y="218.5" font-size="6.5" font-weight="bold" text-anchor="start" fill="#e8202a" stroke="#e8202a" stroke-width="0.35" textLength="36.2" lengthAdjust="spacingAndGlyphs">Ave CI: 0.16</text>
<path d="M204.3,177.6 V236.3 H294.2" stroke="#333" stroke-width="0.95" fill="none"/>
<path d="M203.0,187.5 H204.3" stroke="#333" stroke-width="0.7"/>
<text x="202.8" y="189.05" font-size="4.3" font-weight="normal" text-anchor="end" fill="#111" stroke="#111" stroke-width="0.3" >1.0</text>
<path d="M203.0,211.9 H204.3" stroke="#333" stroke-width="0.7"/>
<text x="202.8" y="213.45000000000002" font-size="4.3" font-weight="normal" text-anchor="end" fill="#111" stroke="#111" stroke-width="0.3" >0.5</text>
<path d="M203.0,236.3 H204.3" stroke="#333" stroke-width="0.7"/>
<text x="202.8" y="237.85000000000002" font-size="4.3" font-weight="normal" text-anchor="end" fill="#111" stroke="#111" stroke-width="0.3" >0.0</text>
<path d="M209.3,236.3 V237.60000000000002" stroke="#333" stroke-width="0.7"/>
<text x="209.3" y="242.70000000000002" font-size="4.1" font-weight="normal" text-anchor="middle" fill="#111" stroke="#111" stroke-width="0.3" >0.01</text>
<path d="M231.7,236.3 V237.60000000000002" stroke="#333" stroke-width="0.7"/>
<text x="231.7" y="242.70000000000002" font-size="4.1" font-weight="normal" text-anchor="middle" fill="#111" stroke="#111" stroke-width="0.3" >1</text>
<path d="M254.2,236.3 V237.60000000000002" stroke="#333" stroke-width="0.7"/>
<text x="254.2" y="242.70000000000002" font-size="4.1" font-weight="normal" text-anchor="middle" fill="#111" stroke="#111" stroke-width="0.3" >100</text>
<path d="M276.6,236.3 V237.60000000000002" stroke="#333" stroke-width="0.7"/>
<text x="276.6" y="242.70000000000002" font-size="4.1" font-weight="normal" text-anchor="middle" fill="#111" stroke="#111" stroke-width="0.3" >10,000</text>
<text x="258.4" y="168.1" font-size="4.8" font-weight="bold" text-anchor="middle" fill="#000" stroke="#000" stroke-width="0.35" textLength="58.9" lengthAdjust="spacingAndGlyphs">IACS-10759 + Talazoparib</text>
<text x="248.9" y="249" font-size="4.85" font-weight="bold" text-anchor="middle" fill="#000" stroke="#000" stroke-width="0.35" textLength="40.5" lengthAdjust="spacingAndGlyphs">Drug (log nmol/L)</text>
<text x="193" y="211" font-size="4.7" font-weight="bold" fill="#111" stroke="#111" stroke-width="0.28" text-anchor="middle" transform="rotate(-90 193 211)" textLength="28" lengthAdjust="spacingAndGlyphs">Cell survival</text>
<path d="M212.80,190.70 L214.19,190.76 L215.58,190.84 L216.97,190.95 L218.36,191.09 L219.75,191.26 L221.14,191.49 L222.53,191.79 L223.92,192.16 L225.31,192.64 L226.70,193.25 L228.09,194.00 L229.48,194.93 L230.87,196.06 L232.26,197.40 L233.65,198.96 L235.04,200.71 L236.43,202.64 L237.82,204.68 L239.21,206.77 L240.60,208.83 L241.99,210.79 L243.38,212.59 L244.77,214.21 L246.16,215.60 L247.55,216.79 L248.94,217.77 L250.33,218.57 L251.72,219.21 L253.11,219.72 L254.50,220.12 L255.89,220.44 L257.28,220.68 L258.67,220.87 L260.06,221.02 L261.45,221.13 L262.84,221.22 L264.23,221.28 L265.62,221.33 L267.01,221.37 L268.40,221.40" stroke="#1d4a22" stroke-width="0.85" fill="none"/>
<rect x="211.60" y="189.20" width="2.4" height="2.4" fill="#0f3014"/>
<rect x="222.70" y="190.30" width="2.4" height="2.4" fill="#0f3014"/>
<path d="M235.1,198.8 V202.8 M233.9,198.8 H236.29999999999998 M233.9,202.8 H236.29999999999998" stroke="#1d4a22" stroke-width="0.7" fill="none"/>
<rect x="233.90" y="199.60" width="2.4" height="2.4" fill="#0f3014"/>
<path d="M246,214.4 V218.4 M244.8,214.4 H247.2 M244.8,218.4 H247.2" stroke="#1d4a22" stroke-width="0.7" fill="none"/>
<rect x="244.80" y="215.20" width="2.4" height="2.4" fill="#0f3014"/>
<path d="M257.3,218.9 V222.9 M256.1,218.9 H258.5 M256.1,222.9 H258.5" stroke="#1d4a22" stroke-width="0.7" fill="none"/>
<rect x="256.10" y="219.70" width="2.4" height="2.4" fill="#0f3014"/>
<path d="M268.4,219.3 V223.3 M267.2,219.3 H269.59999999999997 M267.2,223.3 H269.59999999999997" stroke="#1d4a22" stroke-width="0.7" fill="none"/>
<rect x="267.20" y="220.10" width="2.4" height="2.4" fill="#0f3014"/>
<path d="M212.80,199.10 L214.19,199.13 L215.58,199.17 L216.97,199.22 L218.36,199.29 L219.75,199.37 L221.14,199.47 L222.53,199.60 L223.92,199.77 L225.31,199.99 L226.70,200.26 L228.09,200.60 L229.48,201.03 L230.87,201.57 L232.26,202.23 L233.65,203.03 L235.04,204.00 L236.43,205.15 L237.82,206.48 L239.21,208.00 L240.60,209.68 L241.99,211.49 L243.38,213.39 L244.77,215.32 L246.16,217.21 L247.55,219.01 L248.94,220.67 L250.33,222.17 L251.72,223.48 L253.11,224.61 L254.50,225.56 L255.89,226.35 L257.28,227.00 L258.67,227.52 L260.06,227.94 L261.45,228.27 L262.84,228.54 L264.23,228.75 L265.62,228.91 L267.01,229.04 L268.40,229.14" stroke="#35a043" stroke-width="0.85" fill="none"/>
<path d="M212.8,195.7 V201.7 M211.60000000000002,195.7 H214.0 M211.60000000000002,201.7 H214.0" stroke="#35a043" stroke-width="0.7" fill="none"/>
<rect x="211.60" y="197.50" width="2.4" height="2.4" fill="#2a9a3c"/>
<path d="M223.9,196.1 V202.1 M222.70000000000002,196.1 H225.1 M222.70000000000002,202.1 H225.1" stroke="#35a043" stroke-width="0.7" fill="none"/>
<rect x="222.70" y="197.90" width="2.4" height="2.4" fill="#2a9a3c"/>
<path d="M235.1,202.7 V208.7 M233.9,202.7 H236.29999999999998 M233.9,208.7 H236.29999999999998" stroke="#35a043" stroke-width="0.7" fill="none"/>
<rect x="233.90" y="204.50" width="2.4" height="2.4" fill="#2a9a3c"/>
<path d="M246,216.1 V220.1 M244.8,216.1 H247.2 M244.8,220.1 H247.2" stroke="#35a043" stroke-width="0.7" fill="none"/>
<rect x="244.80" y="216.90" width="2.4" height="2.4" fill="#2a9a3c"/>
<path d="M257.3,222.4 V226.4 M256.1,222.4 H258.5 M256.1,226.4 H258.5" stroke="#35a043" stroke-width="0.7" fill="none"/>
<rect x="256.10" y="223.20" width="2.4" height="2.4" fill="#2a9a3c"/>
<path d="M268.4,228.6 V230.6 M267.2,228.6 H269.59999999999997 M267.2,230.6 H269.59999999999997" stroke="#35a043" stroke-width="0.7" fill="none"/>
<rect x="267.20" y="228.40" width="2.4" height="2.4" fill="#2a9a3c"/>
<path d="M229.00,197.00 L230.38,197.00 L231.75,197.00 L233.12,197.00 L234.50,197.00 L235.88,197.00 L237.25,197.00 L238.62,197.00 L240.00,197.00 L241.38,197.00 L242.75,197.00 L244.12,197.00 L245.50,197.00 L246.88,197.00 L248.25,197.00 L249.62,197.00 L251.00,197.00 L252.38,197.00 L253.75,197.00 L255.12,197.00 L256.50,197.01 L257.88,197.01 L259.25,197.02 L260.62,197.03 L262.00,197.04 L263.38,197.07 L264.75,197.11 L266.12,197.18 L267.50,197.28 L268.88,197.44 L270.25,197.69 L271.62,198.08 L273.00,198.68 L274.38,199.59 L275.75,200.95 L277.12,202.90 L278.50,205.57 L279.88,209.02 L281.25,213.12 L282.62,217.56 L284.00,221.88" stroke="#7e1a2a" stroke-width="0.85" fill="none"/>
<path d="M229,193.2 V201.2 M227.8,193.2 H230.2 M227.8,201.2 H230.2" stroke="#7e1a2a" stroke-width="0.7" fill="none"/>
<rect x="227.80" y="196.00" width="2.4" height="2.4" fill="#8a0f20"/>
<path d="M239.4,193.2 V201.2 M238.20000000000002,193.2 H240.6 M238.20000000000002,201.2 H240.6" stroke="#7e1a2a" stroke-width="0.7" fill="none"/>
<rect x="238.20" y="196.00" width="2.4" height="2.4" fill="#8a0f20"/>
<path d="M250.6,191.5 V201.5 M249.4,191.5 H251.79999999999998 M249.4,201.5 H251.79999999999998" stroke="#7e1a2a" stroke-width="0.7" fill="none"/>
<rect x="249.40" y="195.30" width="2.4" height="2.4" fill="#8a0f20"/>
<path d="M261.7,192.4 V202.4 M260.5,192.4 H262.9 M260.5,202.4 H262.9" stroke="#7e1a2a" stroke-width="0.7" fill="none"/>
<rect x="260.50" y="196.20" width="2.4" height="2.4" fill="#8a0f20"/>
<path d="M272.9,197.8 V203.8 M271.7,197.8 H274.09999999999997 M271.7,203.8 H274.09999999999997" stroke="#7e1a2a" stroke-width="0.7" fill="none"/>
<rect x="271.70" y="199.60" width="2.4" height="2.4" fill="#8a0f20"/>
<path d="M284,220.7 V222.7 M282.8,220.7 H285.2 M282.8,222.7 H285.2" stroke="#7e1a2a" stroke-width="0.7" fill="none"/>
<rect x="282.80" y="220.50" width="2.4" height="2.4" fill="#8a0f20"/>
<path d="M229.00,197.69 L230.38,197.74 L231.75,197.81 L233.12,197.90 L234.50,198.01 L235.88,198.15 L237.25,198.33 L238.62,198.56 L240.00,198.85 L241.38,199.21 L242.75,199.66 L244.12,200.22 L245.50,200.91 L246.88,201.75 L248.25,202.75 L249.62,203.93 L251.00,205.29 L252.38,206.84 L253.75,208.55 L255.12,210.38 L256.50,212.30 L257.88,214.23 L259.25,216.13 L260.62,217.93 L262.00,219.60 L263.38,221.10 L264.75,222.41 L266.12,223.54 L267.50,224.50 L268.88,225.29 L270.25,225.94 L271.62,226.47 L273.00,226.90 L274.38,227.24 L275.75,227.51 L277.12,227.72 L278.50,227.89 L279.88,228.02 L281.25,228.13 L282.62,228.21 L284.00,228.27" stroke="#f08a98" stroke-width="0.85" fill="none"/>
<path d="M229,193 V201 M227.8,193 H230.2 M227.8,201 H230.2" stroke="#f08a98" stroke-width="0.7" fill="none"/>
<rect x="227.80" y="195.80" width="2.4" height="2.4" fill="#f08a98"/>
<path d="M239.4,196.1 V204.1 M238.20000000000002,196.1 H240.6 M238.20000000000002,204.1 H240.6" stroke="#f08a98" stroke-width="0.7" fill="none"/>
<rect x="238.20" y="198.90" width="2.4" height="2.4" fill="#f08a98"/>
<path d="M250.6,202.6 V210.6 M249.4,202.6 H251.79999999999998 M249.4,210.6 H251.79999999999998" stroke="#f08a98" stroke-width="0.7" fill="none"/>
<rect x="249.40" y="205.40" width="2.4" height="2.4" fill="#f08a98"/>
<path d="M261.7,214.8 V222.8 M260.5,214.8 H262.9 M260.5,222.8 H262.9" stroke="#f08a98" stroke-width="0.7" fill="none"/>
<rect x="260.50" y="217.60" width="2.4" height="2.4" fill="#f08a98"/>
<path d="M272.9,222.8 V224.8 M271.7,222.8 H274.09999999999997 M271.7,224.8 H274.09999999999997" stroke="#f08a98" stroke-width="0.7" fill="none"/>
<rect x="271.70" y="222.60" width="2.4" height="2.4" fill="#f08a98"/>
<path d="M284,228.3 V230.3 M282.8,228.3 H285.2 M282.8,230.3 H285.2" stroke="#f08a98" stroke-width="0.7" fill="none"/>
<rect x="282.80" y="228.10" width="2.4" height="2.4" fill="#f08a98"/>
<text x="280.3" y="177.7" font-size="4.9" fill="#111" stroke="#111" stroke-width="0.18">IC<tspan font-size="3.2" dy="1.1">50</tspan><tspan dy="-1.1"> (nmol/L):</tspan></text>
<path d="M280.2,182.8 H285.8" stroke="#b84050" stroke-width="0.8"/>
<circle cx="283" cy="182.8" r="1.25" fill="#5a0f1e"/>
<text x="289.6" y="184.70000000000002" font-size="4.4" font-weight="normal" text-anchor="start" fill="#111" stroke="#111" stroke-width="0.18" textLength="54.63" lengthAdjust="spacingAndGlyphs">IACS-10759 in single: 34,840</text>
<path d="M280.2,189.7 H285.8" stroke="#eca0b0" stroke-width="0.8"/>
<circle cx="283" cy="189.7" r="1.25" fill="#e890a8"/>
<text x="289.6" y="191.6" font-size="4.4" font-weight="normal" text-anchor="start" fill="#111" stroke="#111" stroke-width="0.18" textLength="50.43" lengthAdjust="spacingAndGlyphs">IACS-10759 in combo: 190</text>
<path d="M280.2,198.9 H285.8" stroke="#2a6a2a" stroke-width="0.8"/>
<circle cx="283" cy="198.9" r="1.25" fill="#0a3a0a"/>
<text x="289.6" y="200.8" font-size="4.4" font-weight="normal" text-anchor="start" fill="#111" stroke="#111" stroke-width="0.18" textLength="47.39" lengthAdjust="spacingAndGlyphs">Talazoparib in single: 405</text>
<path d="M280.2,205.3 H285.8" stroke="#5cc05c" stroke-width="0.8"/>
<circle cx="283" cy="205.3" r="1.25" fill="#2f9a35"/>
<text x="289.6" y="207.20000000000002" font-size="4.4" font-weight="normal" text-anchor="start" fill="#111" stroke="#111" stroke-width="0.18" textLength="44.36" lengthAdjust="spacingAndGlyphs">Talazoparib in combo: 8</text>
<text x="295.8" y="218.20000000000002" font-size="6.5" font-weight="bold" text-anchor="start" fill="#e8202a" stroke="#e8202a" stroke-width="0.35" textLength="35.7" lengthAdjust="spacingAndGlyphs">Ave CI: 0.05</text>
<path d="M377.9,177.6 V236.3 H466.5" stroke="#333" stroke-width="0.95" fill="none"/>
<path d="M376.59999999999997,187.5 H377.9" stroke="#333" stroke-width="0.7"/>
<text x="376.4" y="189.05" font-size="4.3" font-weight="normal" text-anchor="end" fill="#111" stroke="#111" stroke-width="0.3" >1.0</text>
<path d="M376.59999999999997,211.9 H377.9" stroke="#333" stroke-width="0.7"/>
<text x="376.4" y="213.45000000000002" font-size="4.3" font-weight="normal" text-anchor="end" fill="#111" stroke="#111" stroke-width="0.3" >0.5</text>
<path d="M376.59999999999997,236.3 H377.9" stroke="#333" stroke-width="0.7"/>
<text x="376.4" y="237.85000000000002" font-size="4.3" font-weight="normal" text-anchor="end" fill="#111" stroke="#111" stroke-width="0.3" >0.0</text>
<path d="M396.7,236.3 V237.60000000000002" stroke="#333" stroke-width="0.7"/>
<text x="396.7" y="242.70000000000002" font-size="4.1" font-weight="normal" text-anchor="middle" fill="#111" stroke="#111" stroke-width="0.3" >1</text>
<path d="M422,236.3 V237.60000000000002" stroke="#333" stroke-width="0.7"/>
<text x="422" y="242.70000000000002" font-size="4.1" font-weight="normal" text-anchor="middle" fill="#111" stroke="#111" stroke-width="0.3" >100</text>
<path d="M447.2,236.3 V237.60000000000002" stroke="#333" stroke-width="0.7"/>
<text x="447.2" y="242.70000000000002" font-size="4.1" font-weight="normal" text-anchor="middle" fill="#111" stroke="#111" stroke-width="0.3" >10,000</text>
<text x="429.3" y="168.2" font-size="4.8" font-weight="bold" text-anchor="middle" fill="#000" stroke="#000" stroke-width="0.35" textLength="55.2" lengthAdjust="spacingAndGlyphs">IACS-10759 + Entinostat</text>
<text x="423.2" y="249" font-size="4.85" font-weight="bold" text-anchor="middle" fill="#000" stroke="#000" stroke-width="0.35" textLength="40.5" lengthAdjust="spacingAndGlyphs">Drug (log nmol/L)</text>
<text x="367.1" y="211.3" font-size="4.7" font-weight="bold" fill="#111" stroke="#111" stroke-width="0.28" text-anchor="middle" transform="rotate(-90 367.1 211.3)" textLength="28" lengthAdjust="spacingAndGlyphs">Cell survival</text>
<path d="M387.70,190.02 L389.29,190.03 L390.88,190.04 L392.46,190.05 L394.05,190.07 L395.64,190.09 L397.22,190.12 L398.81,190.16 L400.40,190.21 L401.99,190.28 L403.57,190.37 L405.16,190.48 L406.75,190.63 L408.34,190.82 L409.93,191.07 L411.51,191.39 L413.10,191.81 L414.69,192.34 L416.27,193.03 L417.86,193.89 L419.45,194.97 L421.04,196.31 L422.62,197.94 L424.21,199.88 L425.80,202.15 L427.39,204.71 L428.97,207.54 L430.56,210.54 L432.15,213.63 L433.74,216.68 L435.32,219.59 L436.91,222.28 L438.50,224.68 L440.09,226.76 L441.68,228.52 L443.26,229.98 L444.85,231.17 L446.44,232.12 L448.02,232.88 L449.61,233.48 L451.20,233.94" stroke="#1d4a22" stroke-width="0.85" fill="none"/>
<rect x="386.50" y="189.20" width="2.4" height="2.4" fill="#0f3014"/>
<path d="M400.5,186.8 V192.8 M399.3,186.8 H401.7 M399.3,192.8 H401.7" stroke="#1d4a22" stroke-width="0.7" fill="none"/>
<rect x="399.30" y="188.60" width="2.4" height="2.4" fill="#0f3014"/>
<path d="M413.5,187.1 V193.1 M412.3,187.1 H414.7 M412.3,193.1 H414.7" stroke="#1d4a22" stroke-width="0.7" fill="none"/>
<rect x="412.30" y="188.90" width="2.4" height="2.4" fill="#0f3014"/>
<rect x="424.90" y="201.40" width="2.4" height="2.4" fill="#0f3014"/>
<rect x="437.40" y="223.90" width="2.4" height="2.4" fill="#0f3014"/>
<rect x="450.00" y="233.00" width="2.4" height="2.4" fill="#0f3014"/>
<path d="M387.70,196.46 L389.29,196.50 L390.88,196.54 L392.46,196.60 L394.05,196.67 L395.64,196.75 L397.22,196.86 L398.81,196.99 L400.40,197.15 L401.99,197.34 L403.57,197.58 L405.16,197.87 L406.75,198.22 L408.34,198.64 L409.93,199.16 L411.51,199.77 L413.10,200.50 L414.69,201.37 L416.27,202.38 L417.86,203.55 L419.45,204.89 L421.04,206.40 L422.62,208.08 L424.21,209.90 L425.80,211.85 L427.39,213.89 L428.97,215.98 L430.56,218.08 L432.15,220.13 L433.74,222.10 L435.32,223.95 L436.91,225.65 L438.50,227.18 L440.09,228.55 L441.68,229.75 L443.26,230.78 L444.85,231.67 L446.44,232.42 L448.02,233.05 L449.61,233.58 L451.20,234.02" stroke="#35a043" stroke-width="0.85" fill="none"/>
<path d="M387.7,192.6 V200.6 M386.5,192.6 H388.9 M386.5,200.6 H388.9" stroke="#35a043" stroke-width="0.7" fill="none"/>
<rect x="386.50" y="195.40" width="2.4" height="2.4" fill="#2a9a3c"/>
<path d="M400.5,192.2 V200.2 M399.3,192.2 H401.7 M399.3,200.2 H401.7" stroke="#35a043" stroke-width="0.7" fill="none"/>
<rect x="399.30" y="195.00" width="2.4" height="2.4" fill="#2a9a3c"/>
<path d="M413.5,196.6 V202.6 M412.3,196.6 H414.7 M412.3,202.6 H414.7" stroke="#35a043" stroke-width="0.7" fill="none"/>
<rect x="412.30" y="198.40" width="2.4" height="2.4" fill="#2a9a3c"/>
<rect x="424.90" y="211.40" width="2.4" height="2.4" fill="#2a9a3c"/>
<rect x="437.40" y="226.10" width="2.4" height="2.4" fill="#2a9a3c"/>
<rect x="450.00" y="233.00" width="2.4" height="2.4" fill="#2a9a3c"/>
<path d="M392.90,197.00 L394.47,197.00 L396.04,197.00 L397.62,197.00 L399.19,197.00 L400.76,197.00 L402.33,197.00 L403.91,197.00 L405.48,197.00 L407.05,197.00 L408.62,197.00 L410.20,197.00 L411.77,197.00 L413.34,197.00 L414.91,197.01 L416.49,197.01 L418.06,197.01 L419.63,197.02 L421.20,197.02 L422.78,197.03 L424.35,197.05 L425.92,197.07 L427.50,197.10 L429.07,197.13 L430.64,197.19 L432.21,197.27 L433.79,197.38 L435.36,197.54 L436.93,197.76 L438.50,198.07 L440.07,198.51 L441.65,199.10 L443.22,199.92 L444.79,201.03 L446.37,202.50 L447.94,204.41 L449.51,206.80 L451.08,209.69 L452.66,213.02 L454.23,216.66 L455.80,220.41" stroke="#7e1a2a" stroke-width="0.85" fill="none"/>
<path d="M392.9,193.7 V199.7 M391.7,193.7 H394.09999999999997 M391.7,199.7 H394.09999999999997" stroke="#7e1a2a" stroke-width="0.7" fill="none"/>
<rect x="391.70" y="195.50" width="2.4" height="2.4" fill="#8a0f20"/>
<path d="M405.3,192.7 V200.7 M404.1,192.7 H406.5 M404.1,200.7 H406.5" stroke="#7e1a2a" stroke-width="0.7" fill="none"/>
<rect x="404.10" y="195.50" width="2.4" height="2.4" fill="#8a0f20"/>
<path d="M418.1,194 V200 M416.90000000000003,194 H419.3 M416.90000000000003,200 H419.3" stroke="#7e1a2a" stroke-width="0.7" fill="none"/>
<rect x="416.90" y="195.80" width="2.4" height="2.4" fill="#8a0f20"/>
<path d="M430.8,194.4 V200.4 M429.6,194.4 H432.0 M429.6,200.4 H432.0" stroke="#7e1a2a" stroke-width="0.7" fill="none"/>
<rect x="429.60" y="196.20" width="2.4" height="2.4" fill="#8a0f20"/>
<path d="M443.4,198.8 V202.8 M442.2,198.8 H444.59999999999997 M442.2,202.8 H444.59999999999997" stroke="#7e1a2a" stroke-width="0.7" fill="none"/>
<rect x="442.20" y="199.60" width="2.4" height="2.4" fill="#8a0f20"/>
<path d="M455.8,220.5 V222.5 M454.6,220.5 H457.0 M454.6,222.5 H457.0" stroke="#7e1a2a" stroke-width="0.7" fill="none"/>
<rect x="454.60" y="220.30" width="2.4" height="2.4" fill="#8a0f20"/>
<path d="M392.90,197.11 L394.47,197.14 L396.04,197.17 L397.62,197.22 L399.19,197.27 L400.76,197.33 L402.33,197.41 L403.91,197.51 L405.48,197.64 L407.05,197.79 L408.62,197.98 L410.20,198.21 L411.77,198.49 L413.34,198.84 L414.91,199.26 L416.49,199.77 L418.06,200.39 L419.63,201.13 L421.20,202.00 L422.78,203.04 L424.35,204.24 L425.92,205.61 L427.50,207.17 L429.07,208.89 L430.64,210.77 L432.21,212.77 L433.79,214.86 L435.36,216.98 L436.93,219.10 L438.50,221.15 L440.07,223.10 L441.65,224.91 L443.22,226.56 L444.79,228.04 L446.37,229.33 L447.94,230.45 L449.51,231.41 L451.08,232.23 L452.66,232.91 L454.23,233.48 L455.80,233.94" stroke="#f08a98" stroke-width="0.85" fill="none"/>
<path d="M392.9,194 V200 M391.7,194 H394.09999999999997 M391.7,200 H394.09999999999997" stroke="#f08a98" stroke-width="0.7" fill="none"/>
<rect x="391.70" y="195.80" width="2.4" height="2.4" fill="#e8b0a0"/>
<path d="M405.3,194 V200 M404.1,194 H406.5 M404.1,200 H406.5" stroke="#f08a98" stroke-width="0.7" fill="none"/>
<rect x="404.10" y="195.80" width="2.4" height="2.4" fill="#e8b0a0"/>
<path d="M418.1,195.5 V201.5 M416.90000000000003,195.5 H419.3 M416.90000000000003,201.5 H419.3" stroke="#f08a98" stroke-width="0.7" fill="none"/>
<rect x="416.90" y="197.30" width="2.4" height="2.4" fill="#e8b0a0"/>
<path d="M430.8,209 V213 M429.6,209 H432.0 M429.6,213 H432.0" stroke="#f08a98" stroke-width="0.7" fill="none"/>
<rect x="429.60" y="209.80" width="2.4" height="2.4" fill="#e8b0a0"/>
<path d="M443.4,226.3 V228.3 M442.2,226.3 H444.59999999999997 M442.2,228.3 H444.59999999999997" stroke="#f08a98" stroke-width="0.7" fill="none"/>
<rect x="442.20" y="226.10" width="2.4" height="2.4" fill="#e8b0a0"/>
<path d="M455.8,233.2 V235.2 M454.6,233.2 H457.0 M454.6,235.2 H457.0" stroke="#f08a98" stroke-width="0.7" fill="none"/>
<rect x="454.60" y="233.00" width="2.4" height="2.4" fill="#e8b0a0"/>
<text x="453.9" y="177.7" font-size="4.9" fill="#111" stroke="#111" stroke-width="0.18">IC<tspan font-size="3.2" dy="1.1">50</tspan><tspan dy="-1.1"> (nmol/L):</tspan></text>
<path d="M453.8,182.8 H459.40000000000003" stroke="#b84050" stroke-width="0.8"/>
<circle cx="456.6" cy="182.8" r="1.25" fill="#5a0f1e"/>
<text x="463.2" y="184.70000000000002" font-size="4.4" font-weight="normal" text-anchor="start" fill="#111" stroke="#111" stroke-width="0.18" textLength="54.63" lengthAdjust="spacingAndGlyphs">IACS-10759 in single: 34,840</text>
<path d="M453.8,189.7 H459.40000000000003" stroke="#eca0b0" stroke-width="0.8"/>
<circle cx="456.6" cy="189.7" r="1.25" fill="#e890a8"/>
<text x="463.2" y="191.6" font-size="4.4" font-weight="normal" text-anchor="start" fill="#111" stroke="#111" stroke-width="0.18" textLength="50.43" lengthAdjust="spacingAndGlyphs">IACS-10759 in combo: 496</text>
<path d="M453.8,198.9 H459.40000000000003" stroke="#2a6a2a" stroke-width="0.8"/>
<circle cx="456.6" cy="198.9" r="1.25" fill="#0a3a0a"/>
<text x="463.2" y="200.8" font-size="4.4" font-weight="normal" text-anchor="start" fill="#111" stroke="#111" stroke-width="0.18" textLength="44.59" lengthAdjust="spacingAndGlyphs">Entinostat in single: 540</text>
<path d="M453.8,205.3 H459.40000000000003" stroke="#5cc05c" stroke-width="0.8"/>
<circle cx="456.6" cy="205.3" r="1.25" fill="#2f9a35"/>
<text x="463.2" y="207.20000000000002" font-size="4.4" font-weight="normal" text-anchor="start" fill="#111" stroke="#111" stroke-width="0.18" textLength="46.23" lengthAdjust="spacingAndGlyphs">Entinostat in combo: 199</text>
<text x="463.2" y="218.5" font-size="6.5" font-weight="bold" text-anchor="start" fill="#e8202a" stroke="#e8202a" stroke-width="0.35" textLength="35.6" lengthAdjust="spacingAndGlyphs">Ave CI: 0.27</text>
<path d="M27.5,272.2 V332.6 H117" stroke="#333" stroke-width="0.95" fill="none"/>
<path d="M26.2,282.9 H27.5" stroke="#333" stroke-width="0.7"/>
<text x="26.0" y="284.45" font-size="4.3" font-weight="normal" text-anchor="end" fill="#111" stroke="#111" stroke-width="0.3" >1.0</text>
<path d="M26.2,307.75 H27.5" stroke="#333" stroke-width="0.7"/>
<text x="26.0" y="309.3" font-size="4.3" font-weight="normal" text-anchor="end" fill="#111" stroke="#111" stroke-width="0.3" >0.5</text>
<path d="M26.2,332.6 H27.5" stroke="#333" stroke-width="0.7"/>
<text x="26.0" y="334.15000000000003" font-size="4.3" font-weight="normal" text-anchor="end" fill="#111" stroke="#111" stroke-width="0.3" >0.0</text>
<path d="M28.7,332.6 V333.90000000000003" stroke="#333" stroke-width="0.7"/>
<text x="28.7" y="339.0" font-size="4.1" font-weight="normal" text-anchor="middle" fill="#111" stroke="#111" stroke-width="0.3" >0.01</text>
<path d="M51,332.6 V333.90000000000003" stroke="#333" stroke-width="0.7"/>
<text x="51" y="339.0" font-size="4.1" font-weight="normal" text-anchor="middle" fill="#111" stroke="#111" stroke-width="0.3" >1</text>
<path d="M75,332.6 V333.90000000000003" stroke="#333" stroke-width="0.7"/>
<text x="75" y="339.0" font-size="4.1" font-weight="normal" text-anchor="middle" fill="#111" stroke="#111" stroke-width="0.3" >100</text>
<path d="M99,332.6 V333.90000000000003" stroke="#333" stroke-width="0.7"/>
<text x="99" y="339.0" font-size="4.1" font-weight="normal" text-anchor="middle" fill="#111" stroke="#111" stroke-width="0.3" >10,000</text>
<text x="70.3" y="265.4" font-size="4.8" font-weight="bold" text-anchor="middle" fill="#000" stroke="#000" stroke-width="0.35" textLength="57.2" lengthAdjust="spacingAndGlyphs">IACS-10759 + Palbociclib</text>
<text x="72.9" y="345.2" font-size="4.85" font-weight="bold" text-anchor="middle" fill="#000" stroke="#000" stroke-width="0.35" textLength="40.5" lengthAdjust="spacingAndGlyphs">Drug (log nmol/L)</text>
<text x="16.7" y="304.9" font-size="4.7" font-weight="bold" fill="#111" stroke="#111" stroke-width="0.28" text-anchor="middle" transform="rotate(-90 16.7 304.9)" textLength="28" lengthAdjust="spacingAndGlyphs">Cell survival</text>
<path d="M33.30,287.43 L34.34,287.53 L35.39,287.66 L36.43,287.82 L37.48,288.01 L38.52,288.25 L39.57,288.54 L40.61,288.90 L41.66,289.34 L42.70,289.87 L43.75,290.50 L44.79,291.26 L45.84,292.17 L46.88,293.23 L47.93,294.46 L48.97,295.87 L50.02,297.47 L51.06,299.23 L52.11,301.15 L53.15,303.20 L54.20,305.34 L55.24,307.51 L56.29,309.67 L57.33,311.77 L58.38,313.76 L59.42,315.62 L60.47,317.30 L61.51,318.81 L62.56,320.14 L63.60,321.29 L64.65,322.28 L65.69,323.11 L66.74,323.81 L67.78,324.39 L68.83,324.88 L69.88,325.27 L70.92,325.60 L71.97,325.87 L73.01,326.08 L74.05,326.26 L75.10,326.40" stroke="#7e1a2a" stroke-width="0.85" fill="none"/>
<path d="M33.3,284.1 V290.1 M32.099999999999994,284.1 H34.5 M32.099999999999994,290.1 H34.5" stroke="#7e1a2a" stroke-width="0.7" fill="none"/>
<rect x="32.10" y="285.90" width="2.4" height="2.4" fill="#c8182c"/>
<rect x="40.70" y="287.80" width="2.4" height="2.4" fill="#c8182c"/>
<rect x="49.10" y="296.40" width="2.4" height="2.4" fill="#c8182c"/>
<rect x="57.10" y="310.80" width="2.4" height="2.4" fill="#c8182c"/>
<rect x="65.50" y="320.10" width="2.4" height="2.4" fill="#c8182c"/>
<rect x="73.90" y="323.80" width="2.4" height="2.4" fill="#c8182c"/>
<path d="M33.30,291.91 L34.34,292.09 L35.39,292.31 L36.43,292.58 L37.48,292.89 L38.52,293.26 L39.57,293.71 L40.61,294.23 L41.66,294.84 L42.70,295.55 L43.75,296.37 L44.79,297.32 L45.84,298.40 L46.88,299.61 L47.93,300.96 L48.97,302.45 L50.02,304.06 L51.06,305.79 L52.11,307.60 L53.15,309.47 L54.20,311.36 L55.24,313.25 L56.29,315.10 L57.33,316.88 L58.38,318.57 L59.42,320.13 L60.47,321.57 L61.51,322.87 L62.56,324.03 L63.60,325.06 L64.65,325.96 L65.69,326.74 L66.74,327.41 L67.78,327.98 L68.83,328.47 L69.88,328.89 L70.92,329.24 L71.97,329.53 L73.01,329.78 L74.05,329.98 L75.10,330.16" stroke="#f08a98" stroke-width="0.85" fill="none"/>
<path d="M33.3,290 V294 M32.099999999999994,290 H34.5 M32.099999999999994,294 H34.5" stroke="#f08a98" stroke-width="0.7" fill="none"/>
<rect x="32.10" y="290.80" width="2.4" height="2.4" fill="#f08a98"/>
<rect x="40.70" y="292.10" width="2.4" height="2.4" fill="#f08a98"/>
<path d="M50.3,301.6 V305.6 M49.099999999999994,301.6 H51.5 M49.099999999999994,305.6 H51.5" stroke="#f08a98" stroke-width="0.7" fill="none"/>
<rect x="49.10" y="302.40" width="2.4" height="2.4" fill="#f08a98"/>
<rect x="57.10" y="313.60" width="2.4" height="2.4" fill="#f08a98"/>
<rect x="65.50" y="322.90" width="2.4" height="2.4" fill="#f08a98"/>
<rect x="73.90" y="327.60" width="2.4" height="2.4" fill="#f08a98"/>
<path d="M61.00,286.50 L62.04,286.50 L63.08,286.50 L64.12,286.50 L65.16,286.50 L66.20,286.50 L67.24,286.50 L68.28,286.50 L69.32,286.50 L70.36,286.50 L71.40,286.50 L72.44,286.50 L73.48,286.50 L74.52,286.50 L75.56,286.50 L76.60,286.50 L77.64,286.50 L78.68,286.50 L79.72,286.51 L80.76,286.51 L81.80,286.51 L82.84,286.52 L83.88,286.53 L84.92,286.55 L85.96,286.57 L87.00,286.60 L88.04,286.65 L89.08,286.73 L90.12,286.84 L91.16,287.00 L92.20,287.25 L93.24,287.61 L94.28,288.14 L95.32,288.91 L96.36,290.03 L97.40,291.61 L98.44,293.81 L99.48,296.78 L100.52,300.61 L101.56,305.32 L102.60,310.74" stroke="#1d4a22" stroke-width="0.85" fill="none"/>
<path d="M61,284.4 V288.4 M59.8,284.4 H62.2 M59.8,288.4 H62.2" stroke="#1d4a22" stroke-width="0.7" fill="none"/>
<rect x="59.80" y="285.20" width="2.4" height="2.4" fill="#0f3014"/>
<path d="M69.4,283.4 V289.4 M68.2,283.4 H70.60000000000001 M68.2,289.4 H70.60000000000001" stroke="#1d4a22" stroke-width="0.7" fill="none"/>
<rect x="68.20" y="285.20" width="2.4" height="2.4" fill="#0f3014"/>
<path d="M77.7,285.2 V289.2 M76.5,285.2 H78.9 M76.5,289.2 H78.9" stroke="#1d4a22" stroke-width="0.7" fill="none"/>
<rect x="76.50" y="286.00" width="2.4" height="2.4" fill="#0f3014"/>
<path d="M86.1,284.4 V288.4 M84.89999999999999,284.4 H87.3 M84.89999999999999,288.4 H87.3" stroke="#1d4a22" stroke-width="0.7" fill="none"/>
<rect x="84.90" y="285.20" width="2.4" height="2.4" fill="#0f3014"/>
<path d="M94.5,283.6 V295.6 M93.3,283.6 H95.7 M93.3,295.6 H95.7" stroke="#1d4a22" stroke-width="0.7" fill="none"/>
<rect x="93.30" y="288.40" width="2.4" height="2.4" fill="#0f3014"/>
<path d="M102.6,293.2 V325.2 M101.39999999999999,293.2 H103.8 M101.39999999999999,325.2 H103.8" stroke="#1d4a22" stroke-width="0.7" fill="none"/>
<rect x="101.40" y="308.00" width="2.4" height="2.4" fill="#0f3014"/>
<path d="M61.00,292.09 L62.04,292.28 L63.08,292.51 L64.12,292.77 L65.16,293.08 L66.20,293.43 L67.24,293.85 L68.28,294.32 L69.32,294.87 L70.36,295.49 L71.40,296.20 L72.44,297.01 L73.48,297.91 L74.52,298.92 L75.56,300.03 L76.60,301.24 L77.64,302.56 L78.68,303.97 L79.72,305.46 L80.76,307.02 L81.80,308.62 L82.84,310.25 L83.88,311.88 L84.92,313.50 L85.96,315.07 L87.00,316.58 L88.04,318.02 L89.08,319.36 L90.12,320.61 L91.16,321.75 L92.20,322.79 L93.24,323.73 L94.28,324.56 L95.32,325.30 L96.36,325.95 L97.40,326.52 L98.44,327.01 L99.48,327.45 L100.52,327.82 L101.56,328.14 L102.60,328.41" stroke="#35a043" stroke-width="0.85" fill="none"/>
<path d="M61,290 V294 M59.8,290 H62.2 M59.8,294 H62.2" stroke="#35a043" stroke-width="0.7" fill="none"/>
<rect x="59.80" y="290.80" width="2.4" height="2.4" fill="#2a9a3c"/>
<path d="M69.4,291.3 V295.3 M68.2,291.3 H70.60000000000001 M68.2,295.3 H70.60000000000001" stroke="#35a043" stroke-width="0.7" fill="none"/>
<rect x="68.20" y="292.10" width="2.4" height="2.4" fill="#2a9a3c"/>
<path d="M77.7,300.6 V304.6 M76.5,300.6 H78.9 M76.5,304.6 H78.9" stroke="#35a043" stroke-width="0.7" fill="none"/>
<rect x="76.50" y="301.40" width="2.4" height="2.4" fill="#2a9a3c"/>
<rect x="84.90" y="314.50" width="2.4" height="2.4" fill="#2a9a3c"/>
<rect x="93.30" y="323.80" width="2.4" height="2.4" fill="#2a9a3c"/>
<path d="M102.6,327.3 V331.3 M101.39999999999999,327.3 H103.8 M101.39999999999999,331.3 H103.8" stroke="#35a043" stroke-width="0.7" fill="none"/>
<rect x="101.40" y="328.10" width="2.4" height="2.4" fill="#2a9a3c"/>
<text x="113.9" y="274.7" font-size="4.9" fill="#111" stroke="#111" stroke-width="0.18">IC<tspan font-size="3.2" dy="1.1">50</tspan><tspan dy="-1.1"> (nmol/L):</tspan></text>
<path d="M113.8,281 H119.39999999999999" stroke="#e06070" stroke-width="0.8"/>
<circle cx="116.6" cy="281" r="1.25" fill="#c01838"/>
<text x="123.4" y="282.9" font-size="4.4" font-weight="normal" text-anchor="start" fill="#111" stroke="#111" stroke-width="0.18" textLength="49.96" lengthAdjust="spacingAndGlyphs">IACS-10759 in single: 3.21</text>
<path d="M113.8,286.9 H119.39999999999999" stroke="#f0a0b0" stroke-width="0.8"/>
<circle cx="116.6" cy="286.9" r="1.25" fill="#f090a8"/>
<text x="123.4" y="288.79999999999995" font-size="4.4" font-weight="normal" text-anchor="start" fill="#111" stroke="#111" stroke-width="0.18" textLength="51.59" lengthAdjust="spacingAndGlyphs">IACS-10759 in combo: 1.04</text>
<path d="M113.8,297.3 H119.39999999999999" stroke="#2a6a2a" stroke-width="0.8"/>
<circle cx="116.6" cy="297.3" r="1.25" fill="#0a3a0a"/>
<text x="123.4" y="299.2" font-size="4.4" font-weight="normal" text-anchor="start" fill="#111" stroke="#111" stroke-width="0.18" textLength="49.5" lengthAdjust="spacingAndGlyphs">Palbociclib in single: 7,063</text>
<path d="M113.8,303.3 H119.39999999999999" stroke="#5cc05c" stroke-width="0.8"/>
<circle cx="116.6" cy="303.3" r="1.25" fill="#2f9a35"/>
<text x="123.4" y="305.2" font-size="4.4" font-weight="normal" text-anchor="start" fill="#111" stroke="#111" stroke-width="0.18" textLength="47.62" lengthAdjust="spacingAndGlyphs">Palbociclib in combo: 209</text>
<text x="122.5" y="318.2" font-size="6.5" font-weight="bold" text-anchor="start" fill="#e8202a" stroke="#e8202a" stroke-width="0.35" textLength="35.3" lengthAdjust="spacingAndGlyphs">Ave CI: 0.36</text>
<path d="M205.4,272.2 V331.8 H299" stroke="#333" stroke-width="0.95" fill="none"/>
<path d="M204.1,282.8 H205.4" stroke="#333" stroke-width="0.7"/>
<text x="203.9" y="284.35" font-size="4.3" font-weight="normal" text-anchor="end" fill="#111" stroke="#111" stroke-width="0.3" >1.0</text>
<path d="M204.1,307.3 H205.4" stroke="#333" stroke-width="0.7"/>
<text x="203.9" y="308.85" font-size="4.3" font-weight="normal" text-anchor="end" fill="#111" stroke="#111" stroke-width="0.3" >0.5</text>
<path d="M204.1,331.8 H205.4" stroke="#333" stroke-width="0.7"/>
<text x="203.9" y="333.35" font-size="4.3" font-weight="normal" text-anchor="end" fill="#111" stroke="#111" stroke-width="0.3" >0.0</text>
<path d="M206.2,331.8 V333.1" stroke="#333" stroke-width="0.7"/>
<text x="206.2" y="338.2" font-size="4.1" font-weight="normal" text-anchor="middle" fill="#111" stroke="#111" stroke-width="0.3" >0.01</text>
<path d="M230.8,331.8 V333.1" stroke="#333" stroke-width="0.7"/>
<text x="230.8" y="338.2" font-size="4.1" font-weight="normal" text-anchor="middle" fill="#111" stroke="#111" stroke-width="0.3" >1</text>
<path d="M256.2,331.8 V333.1" stroke="#333" stroke-width="0.7"/>
<text x="256.2" y="338.2" font-size="4.1" font-weight="normal" text-anchor="middle" fill="#111" stroke="#111" stroke-width="0.3" >100</text>
<path d="M281.7,331.8 V333.1" stroke="#333" stroke-width="0.7"/>
<text x="281.7" y="338.2" font-size="4.1" font-weight="normal" text-anchor="middle" fill="#111" stroke="#111" stroke-width="0.3" >10,000</text>
<text x="253.8" y="266.5" font-size="4.8" font-weight="bold" text-anchor="middle" fill="#000" stroke="#000" stroke-width="0.35" textLength="58" lengthAdjust="spacingAndGlyphs">IACS-10759 + Talazoparib</text>
<text x="252.4" y="344.5" font-size="4.85" font-weight="bold" text-anchor="middle" fill="#000" stroke="#000" stroke-width="0.35" textLength="40.5" lengthAdjust="spacingAndGlyphs">Drug (log nmol/L)</text>
<text x="194" y="305" font-size="4.7" font-weight="bold" fill="#111" stroke="#111" stroke-width="0.28" text-anchor="middle" transform="rotate(-90 194 305)" textLength="28" lengthAdjust="spacingAndGlyphs">Cell survival</text>
<path d="M211.90,289.87 L213.02,289.95 L214.14,290.05 L215.26,290.17 L216.38,290.32 L217.50,290.50 L218.62,290.73 L219.74,290.99 L220.86,291.31 L221.98,291.70 L223.10,292.17 L224.22,292.72 L225.34,293.37 L226.46,294.14 L227.58,295.03 L228.70,296.06 L229.82,297.24 L230.94,298.56 L232.06,300.03 L233.18,301.62 L234.30,303.34 L235.42,305.13 L236.54,306.98 L237.66,308.85 L238.78,310.69 L239.90,312.48 L241.02,314.17 L242.14,315.74 L243.26,317.18 L244.38,318.48 L245.50,319.63 L246.62,320.64 L247.74,321.51 L248.86,322.25 L249.98,322.89 L251.10,323.42 L252.22,323.87 L253.34,324.25 L254.46,324.56 L255.58,324.82 L256.70,325.03" stroke="#7e1a2a" stroke-width="0.85" fill="none"/>
<rect x="210.70" y="288.80" width="2.4" height="2.4" fill="#c8182c"/>
<rect x="219.50" y="288.60" width="2.4" height="2.4" fill="#c8182c"/>
<rect x="228.40" y="295.80" width="2.4" height="2.4" fill="#c8182c"/>
<rect x="237.30" y="309.10" width="2.4" height="2.4" fill="#c8182c"/>
<rect x="246.20" y="319.30" width="2.4" height="2.4" fill="#c8182c"/>
<rect x="255.50" y="323.40" width="2.4" height="2.4" fill="#c8182c"/>
<path d="M211.90,290.29 L213.02,290.48 L214.14,290.71 L215.26,290.98 L216.38,291.32 L217.50,291.73 L218.62,292.23 L219.74,292.83 L220.86,293.54 L221.98,294.38 L223.10,295.36 L224.22,296.50 L225.34,297.80 L226.46,299.26 L227.58,300.88 L228.70,302.63 L229.82,304.49 L230.94,306.42 L232.06,308.38 L233.18,310.33 L234.30,312.22 L235.42,314.01 L236.54,315.68 L237.66,317.20 L238.78,318.55 L239.90,319.75 L241.02,320.79 L242.14,321.68 L243.26,322.43 L244.38,323.07 L245.50,323.60 L246.62,324.04 L247.74,324.40 L248.86,324.70 L249.98,324.95 L251.10,325.15 L252.22,325.31 L253.34,325.44 L254.46,325.55 L255.58,325.63 L256.70,325.70" stroke="#f08a98" stroke-width="0.85" fill="none"/>
<rect x="210.70" y="288.80" width="2.4" height="2.4" fill="#f08a98"/>
<rect x="219.50" y="292.20" width="2.4" height="2.4" fill="#f08a98"/>
<rect x="228.40" y="303.80" width="2.4" height="2.4" fill="#f08a98"/>
<rect x="237.30" y="315.40" width="2.4" height="2.4" fill="#f08a98"/>
<rect x="246.20" y="323.40" width="2.4" height="2.4" fill="#f08a98"/>
<rect x="255.50" y="323.40" width="2.4" height="2.4" fill="#f08a98"/>
<path d="M228.20,285.90 L229.33,285.97 L230.45,286.06 L231.58,286.16 L232.71,286.29 L233.84,286.43 L234.97,286.60 L236.09,286.81 L237.22,287.04 L238.35,287.32 L239.47,287.65 L240.60,288.02 L241.73,288.46 L242.86,288.97 L243.98,289.56 L245.11,290.23 L246.24,290.99 L247.37,291.84 L248.50,292.81 L249.62,293.87 L250.75,295.04 L251.88,296.31 L253.00,297.68 L254.13,299.13 L255.26,300.64 L256.39,302.19 L257.51,303.77 L258.64,305.35 L259.77,306.90 L260.90,308.41 L262.02,309.86 L263.15,311.22 L264.28,312.49 L265.41,313.66 L266.54,314.72 L267.66,315.68 L268.79,316.54 L269.92,317.29 L271.05,317.96 L272.17,318.54 L273.30,319.05" stroke="#1d4a22" stroke-width="0.85" fill="none"/>
<rect x="227.00" y="281.80" width="2.4" height="2.4" fill="#0f3014"/>
<rect x="236.20" y="287.20" width="2.4" height="2.4" fill="#0f3014"/>
<rect x="245.20" y="292.50" width="2.4" height="2.4" fill="#0f3014"/>
<rect x="254.10" y="299.00" width="2.4" height="2.4" fill="#0f3014"/>
<rect x="263.20" y="313.60" width="2.4" height="2.4" fill="#0f3014"/>
<rect x="272.10" y="318.60" width="2.4" height="2.4" fill="#0f3014"/>
<path d="M228.20,290.66 L229.33,290.82 L230.45,291.02 L231.58,291.26 L232.71,291.56 L233.84,291.93 L234.97,292.38 L236.09,292.92 L237.22,293.57 L238.35,294.36 L239.47,295.28 L240.60,296.37 L241.73,297.62 L242.86,299.04 L243.98,300.62 L245.11,302.36 L246.24,304.22 L247.37,306.17 L248.50,308.17 L249.62,310.16 L250.75,312.10 L251.88,313.94 L253.00,315.66 L254.13,317.21 L255.26,318.61 L256.39,319.83 L257.51,320.88 L258.64,321.78 L259.77,322.54 L260.90,323.18 L262.02,323.71 L263.15,324.14 L264.28,324.50 L265.41,324.79 L266.54,325.02 L267.66,325.21 L268.79,325.37 L269.92,325.49 L271.05,325.59 L272.17,325.67 L273.30,325.74" stroke="#35a043" stroke-width="0.85" fill="none"/>
<rect x="227.00" y="289.50" width="2.4" height="2.4" fill="#2a9a3c"/>
<rect x="236.20" y="292.50" width="2.4" height="2.4" fill="#2a9a3c"/>
<rect x="245.20" y="304.30" width="2.4" height="2.4" fill="#2a9a3c"/>
<rect x="254.10" y="315.70" width="2.4" height="2.4" fill="#2a9a3c"/>
<rect x="263.20" y="322.80" width="2.4" height="2.4" fill="#2a9a3c"/>
<rect x="272.10" y="323.90" width="2.4" height="2.4" fill="#2a9a3c"/>
<text x="286.2" y="281.3" font-size="4.9" fill="#111" stroke="#111" stroke-width="0.18">IC<tspan font-size="3.2" dy="1.1">50</tspan><tspan dy="-1.1"> (nmol/L):</tspan></text>
<path d="M287.0,286.7 H292.6" stroke="#e06070" stroke-width="0.8"/>
<circle cx="289.8" cy="286.7" r="1.25" fill="#c01838"/>
<text x="297" y="288.59999999999997" font-size="4.4" font-weight="normal" text-anchor="start" fill="#111" stroke="#111" stroke-width="0.18" textLength="49.96" lengthAdjust="spacingAndGlyphs">IACS-10759 in single: 3.21</text>
<path d="M287.0,293 H292.6" stroke="#f0a0b0" stroke-width="0.8"/>
<circle cx="289.8" cy="293" r="1.25" fill="#f090a8"/>
<text x="297" y="294.9" font-size="4.4" font-weight="normal" text-anchor="start" fill="#111" stroke="#111" stroke-width="0.18" textLength="51.59" lengthAdjust="spacingAndGlyphs">IACS-10759 in combo: 0.68</text>
<path d="M287.0,303.9 H292.6" stroke="#2a6a2a" stroke-width="0.8"/>
<circle cx="289.8" cy="303.9" r="1.25" fill="#0a3a0a"/>
<text x="297" y="305.79999999999995" font-size="4.4" font-weight="normal" text-anchor="start" fill="#111" stroke="#111" stroke-width="0.18" textLength="47.39" lengthAdjust="spacingAndGlyphs">Talazoparib in single: 188</text>
<path d="M287.0,310.5 H292.6" stroke="#5cc05c" stroke-width="0.8"/>
<circle cx="289.8" cy="310.5" r="1.25" fill="#2f9a35"/>
<text x="297" y="312.4" font-size="4.4" font-weight="normal" text-anchor="start" fill="#111" stroke="#111" stroke-width="0.18" textLength="46.69" lengthAdjust="spacingAndGlyphs">Talazoparib in combo: 14</text>
<text x="300" y="325.9" font-size="6.5" font-weight="bold" text-anchor="start" fill="#e8202a" stroke="#e8202a" stroke-width="0.35" textLength="36.1" lengthAdjust="spacingAndGlyphs">Ave CI: 0.32</text>
<path d="M382.1,272.2 V332.3 H471.5" stroke="#333" stroke-width="0.95" fill="none"/>
<path d="M380.8,282.9 H382.1" stroke="#333" stroke-width="0.7"/>
<text x="380.6" y="284.45" font-size="4.3" font-weight="normal" text-anchor="end" fill="#111" stroke="#111" stroke-width="0.3" >1.0</text>
<path d="M380.8,307.6 H382.1" stroke="#333" stroke-width="0.7"/>
<text x="380.6" y="309.15000000000003" font-size="4.3" font-weight="normal" text-anchor="end" fill="#111" stroke="#111" stroke-width="0.3" >0.5</text>
<path d="M380.8,332.3 H382.1" stroke="#333" stroke-width="0.7"/>
<text x="380.6" y="333.85" font-size="4.3" font-weight="normal" text-anchor="end" fill="#111" stroke="#111" stroke-width="0.3" >0.0</text>
<path d="M383.7,332.3 V333.6" stroke="#333" stroke-width="0.7"/>
<text x="383.7" y="338.7" font-size="4.1" font-weight="normal" text-anchor="middle" fill="#111" stroke="#111" stroke-width="0.3" >0.01</text>
<path d="M405.9,332.3 V333.6" stroke="#333" stroke-width="0.7"/>
<text x="405.9" y="338.7" font-size="4.1" font-weight="normal" text-anchor="middle" fill="#111" stroke="#111" stroke-width="0.3" >1</text>
<path d="M429.6,332.3 V333.6" stroke="#333" stroke-width="0.7"/>
<text x="429.6" y="338.7" font-size="4.1" font-weight="normal" text-anchor="middle" fill="#111" stroke="#111" stroke-width="0.3" >100</text>
<path d="M453.8,332.3 V333.6" stroke="#333" stroke-width="0.7"/>
<text x="453.8" y="338.7" font-size="4.1" font-weight="normal" text-anchor="middle" fill="#111" stroke="#111" stroke-width="0.3" >10,000</text>
<text x="429.7" y="266.4" font-size="4.8" font-weight="bold" text-anchor="middle" fill="#000" stroke="#000" stroke-width="0.35" textLength="54.5" lengthAdjust="spacingAndGlyphs">IACS-10759 + Entinostat</text>
<text x="429.4" y="345.6" font-size="4.85" font-weight="bold" text-anchor="middle" fill="#000" stroke="#000" stroke-width="0.35" textLength="40.5" lengthAdjust="spacingAndGlyphs">Drug (log nmol/L)</text>
<text x="371.4" y="305" font-size="4.7" font-weight="bold" fill="#111" stroke="#111" stroke-width="0.28" text-anchor="middle" transform="rotate(-90 371.4 305)" textLength="28" lengthAdjust="spacingAndGlyphs">Cell survival</text>
<path d="M388.10,287.60 L389.15,287.72 L390.20,287.88 L391.24,288.06 L392.29,288.29 L393.34,288.56 L394.38,288.88 L395.43,289.26 L396.48,289.72 L397.53,290.27 L398.58,290.91 L399.62,291.66 L400.67,292.53 L401.72,293.54 L402.76,294.69 L403.81,295.99 L404.86,297.44 L405.91,299.02 L406.96,300.74 L408.00,302.57 L409.05,304.48 L410.10,306.43 L411.14,308.40 L412.19,310.34 L413.24,312.22 L414.29,314.00 L415.34,315.66 L416.38,317.19 L417.43,318.58 L418.48,319.81 L419.52,320.90 L420.57,321.85 L421.62,322.67 L422.67,323.37 L423.72,323.97 L424.76,324.48 L425.81,324.91 L426.86,325.26 L427.90,325.56 L428.95,325.81 L430.00,326.02" stroke="#7e1a2a" stroke-width="0.85" fill="none"/>
<path d="M388.1,283.8 V289.8 M386.90000000000003,283.8 H389.3 M386.90000000000003,289.8 H389.3" stroke="#7e1a2a" stroke-width="0.7" fill="none"/>
<rect x="386.90" y="285.60" width="2.4" height="2.4" fill="#c8182c"/>
<rect x="395.30" y="288.30" width="2.4" height="2.4" fill="#c8182c"/>
<rect x="403.70" y="296.30" width="2.4" height="2.4" fill="#c8182c"/>
<rect x="411.90" y="310.40" width="2.4" height="2.4" fill="#c8182c"/>
<rect x="420.20" y="320.40" width="2.4" height="2.4" fill="#c8182c"/>
<rect x="428.80" y="323.70" width="2.4" height="2.4" fill="#c8182c"/>
<path d="M388.10,291.13 L389.15,291.38 L390.20,291.68 L391.24,292.04 L392.29,292.47 L393.34,292.98 L394.38,293.59 L395.43,294.32 L396.48,295.17 L397.53,296.16 L398.58,297.31 L399.62,298.62 L400.67,300.09 L401.72,301.74 L402.76,303.53 L403.81,305.47 L404.86,307.51 L405.91,309.62 L406.96,311.77 L408.00,313.91 L409.05,316.00 L410.10,317.99 L411.14,319.86 L412.19,321.58 L413.24,323.15 L414.29,324.54 L415.34,325.77 L416.38,326.84 L417.43,327.76 L418.48,328.55 L419.52,329.22 L420.57,329.78 L421.62,330.25 L422.67,330.65 L423.72,330.98 L424.76,331.25 L425.81,331.47 L426.86,331.66 L427.90,331.81 L428.95,331.93 L430.00,332.04" stroke="#f08a98" stroke-width="0.85" fill="none"/>
<path d="M388.1,288.1 V294.1 M386.90000000000003,288.1 H389.3 M386.90000000000003,294.1 H389.3" stroke="#f08a98" stroke-width="0.7" fill="none"/>
<rect x="386.90" y="289.90" width="2.4" height="2.4" fill="#f08a98"/>
<path d="M396.5,292.2 V298.2 M395.3,292.2 H397.7 M395.3,298.2 H397.7" stroke="#f08a98" stroke-width="0.7" fill="none"/>
<rect x="395.30" y="294.00" width="2.4" height="2.4" fill="#f08a98"/>
<path d="M404.9,304.7 V310.7 M403.7,304.7 H406.09999999999997 M403.7,310.7 H406.09999999999997" stroke="#f08a98" stroke-width="0.7" fill="none"/>
<rect x="403.70" y="306.50" width="2.4" height="2.4" fill="#f08a98"/>
<rect x="411.90" y="322.80" width="2.4" height="2.4" fill="#f08a98"/>
<path d="M421.4,328.8 V332.8 M420.2,328.8 H422.59999999999997 M420.2,332.8 H422.59999999999997" stroke="#f08a98" stroke-width="0.7" fill="none"/>
<rect x="420.20" y="329.60" width="2.4" height="2.4" fill="#f08a98"/>
<rect x="428.80" y="330.20" width="2.4" height="2.4" fill="#f08a98"/>
<path d="M415.70,284.52 L416.74,284.58 L417.78,284.65 L418.82,284.75 L419.86,284.87 L420.90,285.02 L421.94,285.22 L422.98,285.46 L424.02,285.77 L425.06,286.15 L426.10,286.64 L427.14,287.24 L428.18,287.98 L429.22,288.89 L430.26,290.00 L431.30,291.33 L432.34,292.91 L433.38,294.76 L434.42,296.87 L435.46,299.24 L436.50,301.84 L437.54,304.62 L438.58,307.50 L439.62,310.41 L440.66,313.26 L441.70,315.98 L442.74,318.50 L443.78,320.77 L444.82,322.79 L445.86,324.53 L446.90,326.01 L447.94,327.25 L448.98,328.28 L450.02,329.12 L451.06,329.81 L452.10,330.36 L453.14,330.80 L454.18,331.16 L455.22,331.44 L456.26,331.66 L457.30,331.84" stroke="#1d4a22" stroke-width="0.85" fill="none"/>
<rect x="414.50" y="283.30" width="2.4" height="2.4" fill="#0f3014"/>
<path d="M424.1,282.8 V286.8 M422.90000000000003,282.8 H425.3 M422.90000000000003,286.8 H425.3" stroke="#1d4a22" stroke-width="0.7" fill="none"/>
<rect x="422.90" y="283.60" width="2.4" height="2.4" fill="#0f3014"/>
<rect x="430.90" y="291.30" width="2.4" height="2.4" fill="#0f3014"/>
<rect x="439.50" y="311.40" width="2.4" height="2.4" fill="#0f3014"/>
<rect x="448.00" y="330.00" width="2.4" height="2.4" fill="#0f3014"/>
<rect x="456.10" y="330.00" width="2.4" height="2.4" fill="#0f3014"/>
<path d="M415.70,291.13 L416.74,291.30 L417.78,291.50 L418.82,291.75 L419.86,292.06 L420.90,292.45 L421.94,292.93 L422.98,293.51 L424.02,294.23 L425.06,295.09 L426.10,296.12 L427.14,297.35 L428.18,298.78 L429.22,300.42 L430.26,302.28 L431.30,304.33 L432.34,306.55 L433.38,308.90 L434.42,311.31 L435.46,313.73 L436.50,316.09 L437.54,318.34 L438.58,320.42 L439.62,322.31 L440.66,323.98 L441.70,325.44 L442.74,326.70 L443.78,327.76 L444.82,328.65 L445.86,329.39 L446.90,329.99 L447.94,330.48 L448.98,330.88 L450.02,331.21 L451.06,331.47 L452.10,331.68 L453.14,331.84 L454.18,331.98 L455.22,332.08 L456.26,332.17 L457.30,332.24" stroke="#35a043" stroke-width="0.85" fill="none"/>
<path d="M415.7,288.3 V294.3 M414.5,288.3 H416.9 M414.5,294.3 H416.9" stroke="#35a043" stroke-width="0.7" fill="none"/>
<rect x="414.50" y="290.10" width="2.4" height="2.4" fill="#2a9a3c"/>
<path d="M424.1,291.3 V297.3 M422.90000000000003,291.3 H425.3 M422.90000000000003,297.3 H425.3" stroke="#35a043" stroke-width="0.7" fill="none"/>
<rect x="422.90" y="293.10" width="2.4" height="2.4" fill="#2a9a3c"/>
<path d="M432.1,303.8 V309.8 M430.90000000000003,303.8 H433.3 M430.90000000000003,309.8 H433.3" stroke="#35a043" stroke-width="0.7" fill="none"/>
<rect x="430.90" y="305.60" width="2.4" height="2.4" fill="#2a9a3c"/>
<path d="M440.7,321.7 V325.7 M439.5,321.7 H441.9 M439.5,325.7 H441.9" stroke="#35a043" stroke-width="0.7" fill="none"/>
<rect x="439.50" y="322.50" width="2.4" height="2.4" fill="#2a9a3c"/>
<rect x="448.00" y="329.60" width="2.4" height="2.4" fill="#2a9a3c"/>
<rect x="456.10" y="330.20" width="2.4" height="2.4" fill="#2a9a3c"/>
<text x="459.3" y="274.7" font-size="4.9" fill="#111" stroke="#111" stroke-width="0.18">IC<tspan font-size="3.2" dy="1.1">50</tspan><tspan dy="-1.1"> (nmol/L):</tspan></text>
<path d="M459.5,280.7 H465.1" stroke="#e06070" stroke-width="0.8"/>
<circle cx="462.3" cy="280.7" r="1.25" fill="#c01838"/>
<text x="468.9" y="282.59999999999997" font-size="4.4" font-weight="normal" text-anchor="start" fill="#111" stroke="#111" stroke-width="0.18" textLength="49.96" lengthAdjust="spacingAndGlyphs">IACS-10759 in single: 3.21</text>
<path d="M459.5,287.3 H465.1" stroke="#f0a0b0" stroke-width="0.8"/>
<circle cx="462.3" cy="287.3" r="1.25" fill="#f090a8"/>
<text x="468.9" y="289.2" font-size="4.4" font-weight="normal" text-anchor="start" fill="#111" stroke="#111" stroke-width="0.18" textLength="51.59" lengthAdjust="spacingAndGlyphs">IACS-10759 in combo: 0.46</text>
<path d="M459.5,297.6 H465.1" stroke="#2a6a2a" stroke-width="0.8"/>
<circle cx="462.3" cy="297.6" r="1.25" fill="#0a3a0a"/>
<text x="468.9" y="299.5" font-size="4.4" font-weight="normal" text-anchor="start" fill="#111" stroke="#111" stroke-width="0.18" textLength="44.59" lengthAdjust="spacingAndGlyphs">Entinostat in single: 401</text>
<path d="M459.5,303.3 H465.1" stroke="#5cc05c" stroke-width="0.8"/>
<circle cx="462.3" cy="303.3" r="1.25" fill="#2f9a35"/>
<text x="468.9" y="305.2" font-size="4.4" font-weight="normal" text-anchor="start" fill="#111" stroke="#111" stroke-width="0.18" textLength="43.89" lengthAdjust="spacingAndGlyphs">Entinostat in combo: 36</text>
<text x="468.2" y="317.79999999999995" font-size="6.5" font-weight="bold" text-anchor="start" fill="#e8202a" stroke="#e8202a" stroke-width="0.35" textLength="35.1" lengthAdjust="spacingAndGlyphs">Ave CI: 0.22</text>
</g></svg></div>
</body></html>
